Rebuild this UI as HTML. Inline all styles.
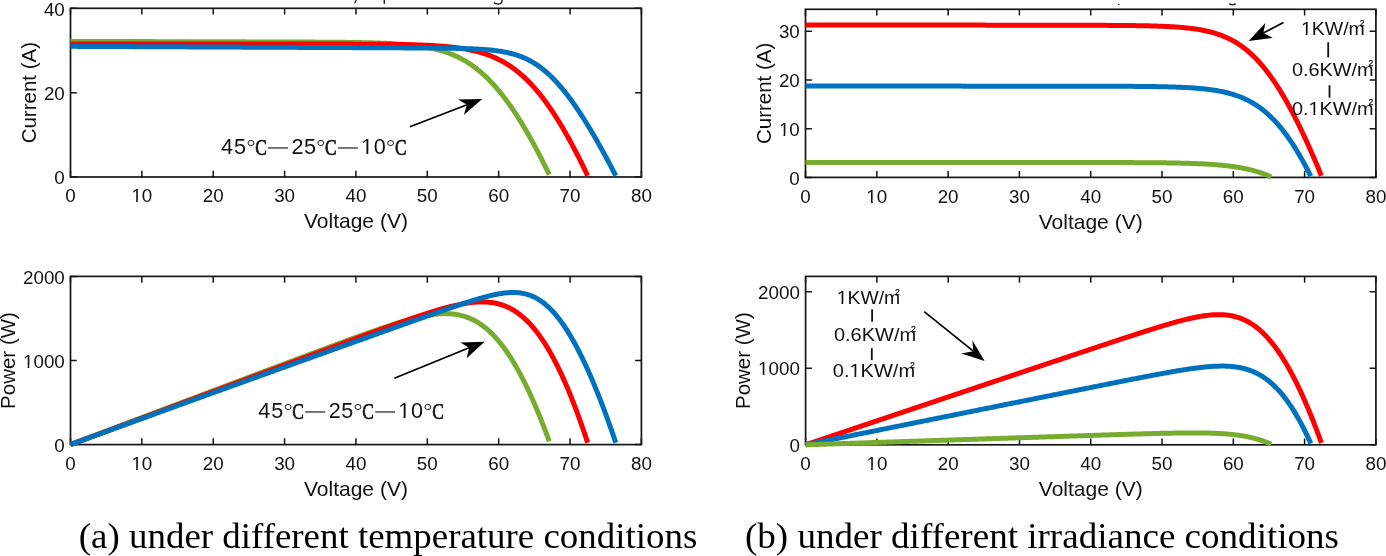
<!DOCTYPE html>
<html><head><meta charset="utf-8"><style>
html,body{margin:0;padding:0;background:#fff;}
body{width:1386px;height:556px;overflow:hidden;}
svg{display:block;will-change:transform;}
</style></head><body>
<svg width="1386" height="556" viewBox="0 0 1386 556">
<rect width="1386" height="556" fill="#fff"/>
<rect x="70.5" y="8.3" width="570.90" height="168.70" fill="none" stroke="#151515" stroke-width="1.7"/>
<path d="M70.50,177.0v-6.3M70.50,8.3v6.3M141.86,177.0v-6.3M141.86,8.3v6.3M213.22,177.0v-6.3M213.22,8.3v6.3M284.59,177.0v-6.3M284.59,8.3v6.3M355.95,177.0v-6.3M355.95,8.3v6.3M427.31,177.0v-6.3M427.31,8.3v6.3M498.68,177.0v-6.3M498.68,8.3v6.3M570.04,177.0v-6.3M570.04,8.3v6.3M641.40,177.0v-6.3M641.40,8.3v6.3M70.5,177.00h6.3M641.4,177.00h-6.3M70.5,92.65h6.3M641.4,92.65h-6.3M70.5,8.30h6.3M641.4,8.30h-6.3" stroke="#151515" stroke-width="1.5" fill="none"/>
<rect x="70.5" y="276.4" width="570.90" height="168.20" fill="none" stroke="#151515" stroke-width="1.7"/>
<path d="M70.50,444.6v-6.3M70.50,276.4v6.3M141.86,444.6v-6.3M141.86,276.4v6.3M213.22,444.6v-6.3M213.22,276.4v6.3M284.59,444.6v-6.3M284.59,276.4v6.3M355.95,444.6v-6.3M355.95,276.4v6.3M427.31,444.6v-6.3M427.31,276.4v6.3M498.68,444.6v-6.3M498.68,276.4v6.3M570.04,444.6v-6.3M570.04,276.4v6.3M641.40,444.6v-6.3M641.40,276.4v6.3M70.5,444.60h6.3M641.4,444.60h-6.3M70.5,360.50h6.3M641.4,360.50h-6.3M70.5,276.40h6.3M641.4,276.40h-6.3" stroke="#151515" stroke-width="1.5" fill="none"/>
<rect x="805.5" y="9.3" width="570.40" height="168.10" fill="none" stroke="#151515" stroke-width="1.7"/>
<path d="M805.50,177.4v-6.3M805.50,9.3v6.3M876.80,177.4v-6.3M876.80,9.3v6.3M948.10,177.4v-6.3M948.10,9.3v6.3M1019.40,177.4v-6.3M1019.40,9.3v6.3M1090.70,177.4v-6.3M1090.70,9.3v6.3M1162.00,177.4v-6.3M1162.00,9.3v6.3M1233.30,177.4v-6.3M1233.30,9.3v6.3M1304.60,177.4v-6.3M1304.60,9.3v6.3M1375.90,177.4v-6.3M1375.90,9.3v6.3M805.5,177.40h6.3M1375.9,177.40h-6.3M805.5,128.68h6.3M1375.9,128.68h-6.3M805.5,79.95h6.3M1375.9,79.95h-6.3M805.5,31.23h6.3M1375.9,31.23h-6.3" stroke="#151515" stroke-width="1.5" fill="none"/>
<rect x="805.6" y="276.4" width="570.30" height="168.40" fill="none" stroke="#151515" stroke-width="1.7"/>
<path d="M805.60,444.8v-6.3M805.60,276.4v6.3M876.89,444.8v-6.3M876.89,276.4v6.3M948.18,444.8v-6.3M948.18,276.4v6.3M1019.46,444.8v-6.3M1019.46,276.4v6.3M1090.75,444.8v-6.3M1090.75,276.4v6.3M1162.04,444.8v-6.3M1162.04,276.4v6.3M1233.33,444.8v-6.3M1233.33,276.4v6.3M1304.61,444.8v-6.3M1304.61,276.4v6.3M1375.90,444.8v-6.3M1375.90,276.4v6.3M805.6,444.80h6.3M1375.9,444.80h-6.3M805.6,368.25h6.3M1375.9,368.25h-6.3M805.6,291.71h6.3M1375.9,291.71h-6.3" stroke="#151515" stroke-width="1.5" fill="none"/>
<g fill="none" stroke-width="5.0" stroke-linejoin="round" stroke-linecap="butt">
<path stroke="#77AC30" d="M70.50,41.41 L70.54,41.41 L71.63,41.41 L72.73,41.41 L73.83,41.42 L74.93,41.42 L76.02,41.42 L77.12,41.42 L78.22,41.43 L79.31,41.43 L80.41,41.43 L81.51,41.44 L82.60,41.44 L83.70,41.44 L84.80,41.45 L85.89,41.45 L86.99,41.45 L88.09,41.45 L89.18,41.46 L90.28,41.46 L91.38,41.46 L92.48,41.47 L93.57,41.47 L94.67,41.47 L95.77,41.47 L96.86,41.48 L97.96,41.48 L99.06,41.48 L100.15,41.49 L101.25,41.49 L102.35,41.49 L103.44,41.49 L104.54,41.50 L105.64,41.50 L106.73,41.50 L107.83,41.51 L108.93,41.51 L110.03,41.51 L111.12,41.51 L112.22,41.52 L113.32,41.52 L114.41,41.52 L115.51,41.53 L116.61,41.53 L117.70,41.53 L118.80,41.53 L119.90,41.54 L120.99,41.54 L122.09,41.54 L123.19,41.55 L124.28,41.55 L125.38,41.55 L126.48,41.55 L127.58,41.56 L128.67,41.56 L129.77,41.56 L130.87,41.57 L131.96,41.57 L133.06,41.57 L134.16,41.58 L135.25,41.58 L136.35,41.58 L137.45,41.58 L138.54,41.59 L139.64,41.59 L140.74,41.59 L141.83,41.60 L142.93,41.60 L144.03,41.60 L145.13,41.60 L146.22,41.61 L147.32,41.61 L148.42,41.61 L149.51,41.62 L150.61,41.62 L151.71,41.62 L152.80,41.62 L153.90,41.63 L155.00,41.63 L156.09,41.63 L157.19,41.64 L158.29,41.64 L159.38,41.64 L160.48,41.64 L161.58,41.65 L162.68,41.65 L163.77,41.65 L164.87,41.66 L165.97,41.66 L167.06,41.66 L168.16,41.66 L169.26,41.67 L170.35,41.67 L171.45,41.67 L172.55,41.68 L173.64,41.68 L174.74,41.68 L175.84,41.69 L176.93,41.69 L178.03,41.69 L179.13,41.69 L180.23,41.70 L181.32,41.70 L182.42,41.70 L183.52,41.71 L184.61,41.71 L185.71,41.71 L186.81,41.71 L187.90,41.72 L189.00,41.72 L190.10,41.72 L191.19,41.73 L192.29,41.73 L193.39,41.73 L194.48,41.73 L195.58,41.74 L196.68,41.74 L197.78,41.74 L198.87,41.75 L199.97,41.75 L201.07,41.75 L202.16,41.76 L203.26,41.76 L204.36,41.76 L205.45,41.76 L206.55,41.77 L207.65,41.77 L208.74,41.77 L209.84,41.78 L210.94,41.78 L212.03,41.78 L213.13,41.78 L214.23,41.79 L215.33,41.79 L216.42,41.79 L217.52,41.80 L218.62,41.80 L219.71,41.80 L220.81,41.81 L221.91,41.81 L223.00,41.81 L224.10,41.81 L225.20,41.82 L226.29,41.82 L227.39,41.82 L228.49,41.83 L229.58,41.83 L230.68,41.83 L231.78,41.84 L232.88,41.84 L233.97,41.84 L235.07,41.84 L236.17,41.85 L237.26,41.85 L238.36,41.85 L239.46,41.86 L240.55,41.86 L241.65,41.86 L242.75,41.87 L243.84,41.87 L244.94,41.87 L246.04,41.88 L247.13,41.88 L248.23,41.88 L249.33,41.88 L250.43,41.89 L251.52,41.89 L252.62,41.89 L253.72,41.90 L254.81,41.90 L255.91,41.90 L257.01,41.91 L258.10,41.91 L259.20,41.91 L260.30,41.92 L261.39,41.92 L262.49,41.92 L263.59,41.93 L264.68,41.93 L265.78,41.93 L266.88,41.94 L267.97,41.94 L269.07,41.94 L270.17,41.95 L271.27,41.95 L272.36,41.95 L273.46,41.96 L274.56,41.96 L275.65,41.96 L276.75,41.97 L277.85,41.97 L278.94,41.98 L280.04,41.98 L281.14,41.98 L282.23,41.99 L283.33,41.99 L284.43,41.99 L285.52,42.00 L286.62,42.00 L287.72,42.01 L288.82,42.01 L289.91,42.01 L291.01,42.02 L292.11,42.02 L293.20,42.03 L294.30,42.03 L295.40,42.04 L296.49,42.04 L297.59,42.04 L298.69,42.05 L299.78,42.05 L300.88,42.06 L301.98,42.06 L303.07,42.07 L304.17,42.07 L305.27,42.08 L306.37,42.08 L307.46,42.09 L308.56,42.09 L309.66,42.10 L310.75,42.10 L311.85,42.11 L312.95,42.12 L314.04,42.12 L315.14,42.13 L316.24,42.13 L317.33,42.14 L318.43,42.15 L319.53,42.15 L320.62,42.16 L321.72,42.17 L322.82,42.17 L323.92,42.18 L325.01,42.19 L326.11,42.20 L327.21,42.20 L328.30,42.21 L329.40,42.22 L330.50,42.23 L331.59,42.24 L332.69,42.25 L333.79,42.26 L334.88,42.27 L335.98,42.28 L337.08,42.29 L338.17,42.30 L339.27,42.31 L340.37,42.32 L341.46,42.33 L342.56,42.34 L343.66,42.35 L344.75,42.36 L345.85,42.38 L346.95,42.39 L348.05,42.40 L349.14,42.42 L350.24,42.43 L351.34,42.45 L352.43,42.46 L353.53,42.48 L354.63,42.50 L355.72,42.51 L356.82,42.53 L357.92,42.55 L359.01,42.57 L360.11,42.59 L361.21,42.61 L362.30,42.63 L363.40,42.65 L364.50,42.68 L365.59,42.70 L366.69,42.73 L367.79,42.75 L368.88,42.78 L369.98,42.80 L371.07,42.83 L372.17,42.86 L373.27,42.89 L374.36,42.93 L375.46,42.96 L376.56,42.99 L377.65,43.03 L378.75,43.07 L379.84,43.10 L380.94,43.14 L382.04,43.19 L383.13,43.23 L384.23,43.27 L385.32,43.32 L386.42,43.37 L387.52,43.42 L388.61,43.47 L389.71,43.52 L390.80,43.58 L391.90,43.64 L392.99,43.70 L394.09,43.76 L395.18,43.83 L396.28,43.90 L397.37,43.97 L398.46,44.04 L399.56,44.12 L400.65,44.20 L401.74,44.28 L402.84,44.36 L403.93,44.45 L405.02,44.55 L406.12,44.64 L407.21,44.74 L408.30,44.84 L409.39,44.95 L410.48,45.06 L411.57,45.18 L412.66,45.30 L413.75,45.42 L414.84,45.55 L415.92,45.69 L417.01,45.83 L418.10,45.97 L419.18,46.12 L420.27,46.28 L421.35,46.44 L422.43,46.61 L423.51,46.78 L424.59,46.96 L425.67,47.14 L426.75,47.34 L427.82,47.54 L428.90,47.74 L429.97,47.96 L431.04,48.18 L432.11,48.41 L433.18,48.64 L434.24,48.89 L435.31,49.14 L436.37,49.40 L437.43,49.67 L438.48,49.95 L439.54,50.24 L440.59,50.53 L441.63,50.84 L442.68,51.15 L443.72,51.48 L444.76,51.81 L445.79,52.15 L446.82,52.51 L447.85,52.87 L448.87,53.24 L449.89,53.62 L450.90,54.02 L451.91,54.42 L452.91,54.83 L453.91,55.26 L454.91,55.69 L455.90,56.13 L456.88,56.59 L457.86,57.05 L458.83,57.53 L459.80,58.01 L460.76,58.51 L461.71,59.01 L462.66,59.53 L463.61,60.05 L464.54,60.59 L465.47,61.13 L466.40,61.68 L467.31,62.25 L468.22,62.82 L469.13,63.40 L470.03,63.99 L470.92,64.59 L471.80,65.20 L472.68,65.81 L473.55,66.44 L474.41,67.07 L475.27,67.71 L476.12,68.36 L476.97,69.02 L477.80,69.68 L478.64,70.35 L479.46,71.03 L480.28,71.71 L481.09,72.40 L481.89,73.10 L482.69,73.81 L483.48,74.52 L484.27,75.23 L485.05,75.96 L485.82,76.68 L486.59,77.42 L487.35,78.16 L488.11,78.90 L488.86,79.65 L489.60,80.41 L490.34,81.17 L491.07,81.93 L491.80,82.70 L492.52,83.47 L493.23,84.25 L493.94,85.03 L494.65,85.82 L495.35,86.61 L496.05,87.41 L496.74,88.20 L497.42,89.01 L498.10,89.81 L498.78,90.62 L499.45,91.43 L500.12,92.25 L500.78,93.07 L501.44,93.89 L502.09,94.71 L502.74,95.54 L503.39,96.37 L504.03,97.20 L504.67,98.04 L505.30,98.88 L505.93,99.72 L506.55,100.56 L507.17,101.41 L507.79,102.26 L508.41,103.11 L509.02,103.96 L509.62,104.82 L510.23,105.68 L510.83,106.54 L511.43,107.40 L512.02,108.26 L512.61,109.13 L513.20,109.99 L513.78,110.86 L514.36,111.73 L514.94,112.61 L515.52,113.48 L516.09,114.36 L516.66,115.24 L517.22,116.12 L517.79,117.00 L518.35,117.88 L518.91,118.76 L519.46,119.65 L520.02,120.53 L520.57,121.42 L521.12,122.31 L521.66,123.20 L522.20,124.10 L522.75,124.99 L523.28,125.88 L523.82,126.78 L524.35,127.68 L524.89,128.58 L525.42,129.48 L525.94,130.38 L526.47,131.28 L526.99,132.18 L527.51,133.08 L528.03,133.99 L528.55,134.89 L529.06,135.80 L529.58,136.71 L530.09,137.62 L530.60,138.53 L531.11,139.44 L531.61,140.35 L532.12,141.26 L532.62,142.18 L533.12,143.09 L533.62,144.00 L534.11,144.92 L534.61,145.84 L535.10,146.75 L535.59,147.67 L536.08,148.59 L536.57,149.51 L537.06,150.43 L537.55,151.35 L538.03,152.27 L538.51,153.19 L538.99,154.12 L539.47,155.04 L539.95,155.97 L540.43,156.89 L540.90,157.82 L541.38,158.74 L541.85,159.67 L542.32,160.60 L542.79,161.52 L543.26,162.45 L543.73,163.38 L544.20,164.31 L544.66,165.24 L545.12,166.17 L545.59,167.10 L546.05,168.04 L546.51,168.97 L546.97,169.90 L547.42,170.84 L547.88,171.77 L548.34,172.70 L548.79,173.64 L549.24,174.57"/>
<path stroke="#FF0000" d="M70.50,44.02 L70.57,44.02 L71.74,44.02 L72.91,44.02 L74.09,44.02 L75.26,44.02 L76.44,44.02 L77.61,44.02 L78.78,44.02 L79.96,44.02 L81.13,44.02 L82.30,44.02 L83.48,44.02 L84.65,44.02 L85.83,44.02 L87.00,44.02 L88.17,44.02 L89.35,44.02 L90.52,44.02 L91.69,44.02 L92.87,44.02 L94.04,44.02 L95.22,44.02 L96.39,44.02 L97.56,44.02 L98.74,44.02 L99.91,44.02 L101.08,44.02 L102.26,44.02 L103.43,44.02 L104.61,44.02 L105.78,44.03 L106.95,44.03 L108.13,44.03 L109.30,44.03 L110.47,44.03 L111.65,44.03 L112.82,44.03 L114.00,44.03 L115.17,44.03 L116.34,44.03 L117.52,44.03 L118.69,44.03 L119.86,44.03 L121.04,44.03 L122.21,44.03 L123.39,44.03 L124.56,44.03 L125.73,44.03 L126.91,44.03 L128.08,44.03 L129.25,44.03 L130.43,44.03 L131.60,44.03 L132.78,44.03 L133.95,44.03 L135.12,44.03 L136.30,44.03 L137.47,44.03 L138.64,44.03 L139.82,44.03 L140.99,44.03 L142.17,44.03 L143.34,44.03 L144.51,44.03 L145.69,44.03 L146.86,44.03 L148.03,44.03 L149.21,44.03 L150.38,44.03 L151.56,44.03 L152.73,44.03 L153.90,44.03 L155.08,44.03 L156.25,44.03 L157.42,44.03 L158.60,44.03 L159.77,44.03 L160.95,44.03 L162.12,44.03 L163.29,44.03 L164.47,44.03 L165.64,44.03 L166.81,44.03 L167.99,44.03 L169.16,44.03 L170.34,44.03 L171.51,44.03 L172.68,44.03 L173.86,44.03 L175.03,44.03 L176.21,44.03 L177.38,44.03 L178.55,44.03 L179.73,44.03 L180.90,44.03 L182.07,44.03 L183.25,44.03 L184.42,44.03 L185.60,44.03 L186.77,44.03 L187.94,44.03 L189.12,44.03 L190.29,44.03 L191.46,44.03 L192.64,44.03 L193.81,44.03 L194.99,44.03 L196.16,44.03 L197.33,44.03 L198.51,44.03 L199.68,44.03 L200.85,44.03 L202.03,44.03 L203.20,44.03 L204.38,44.03 L205.55,44.03 L206.72,44.03 L207.90,44.03 L209.07,44.03 L210.24,44.03 L211.42,44.03 L212.59,44.03 L213.77,44.03 L214.94,44.03 L216.11,44.03 L217.29,44.03 L218.46,44.03 L219.63,44.03 L220.81,44.03 L221.98,44.03 L223.16,44.03 L224.33,44.03 L225.50,44.04 L226.68,44.04 L227.85,44.04 L229.02,44.04 L230.20,44.04 L231.37,44.04 L232.55,44.04 L233.72,44.04 L234.89,44.04 L236.07,44.04 L237.24,44.04 L238.41,44.04 L239.59,44.04 L240.76,44.04 L241.94,44.04 L243.11,44.04 L244.28,44.04 L245.46,44.04 L246.63,44.04 L247.80,44.04 L248.98,44.04 L250.15,44.04 L251.33,44.04 L252.50,44.04 L253.67,44.04 L254.85,44.04 L256.02,44.04 L257.19,44.04 L258.37,44.04 L259.54,44.04 L260.72,44.04 L261.89,44.04 L263.06,44.04 L264.24,44.04 L265.41,44.04 L266.59,44.04 L267.76,44.04 L268.93,44.04 L270.11,44.04 L271.28,44.04 L272.45,44.04 L273.63,44.04 L274.80,44.04 L275.98,44.04 L277.15,44.04 L278.32,44.04 L279.50,44.04 L280.67,44.04 L281.84,44.04 L283.02,44.04 L284.19,44.05 L285.37,44.05 L286.54,44.05 L287.71,44.05 L288.89,44.05 L290.06,44.05 L291.23,44.05 L292.41,44.05 L293.58,44.05 L294.76,44.05 L295.93,44.05 L297.10,44.05 L298.28,44.05 L299.45,44.05 L300.62,44.05 L301.80,44.05 L302.97,44.05 L304.15,44.05 L305.32,44.05 L306.49,44.05 L307.67,44.06 L308.84,44.06 L310.01,44.06 L311.19,44.06 L312.36,44.06 L313.54,44.06 L314.71,44.06 L315.88,44.06 L317.06,44.06 L318.23,44.06 L319.40,44.06 L320.58,44.07 L321.75,44.07 L322.93,44.07 L324.10,44.07 L325.27,44.07 L326.45,44.07 L327.62,44.07 L328.79,44.08 L329.97,44.08 L331.14,44.08 L332.32,44.08 L333.49,44.08 L334.66,44.08 L335.84,44.09 L337.01,44.09 L338.18,44.09 L339.36,44.09 L340.53,44.09 L341.71,44.10 L342.88,44.10 L344.05,44.10 L345.23,44.10 L346.40,44.11 L347.57,44.11 L348.75,44.11 L349.92,44.12 L351.10,44.12 L352.27,44.12 L353.44,44.13 L354.62,44.13 L355.79,44.13 L356.96,44.14 L358.14,44.14 L359.31,44.15 L360.49,44.15 L361.66,44.16 L362.83,44.16 L364.01,44.17 L365.18,44.17 L366.35,44.18 L367.53,44.18 L368.70,44.19 L369.88,44.20 L371.05,44.20 L372.22,44.21 L373.40,44.22 L374.57,44.22 L375.74,44.23 L376.92,44.24 L378.09,44.25 L379.27,44.26 L380.44,44.27 L381.61,44.28 L382.79,44.29 L383.96,44.30 L385.13,44.31 L386.31,44.32 L387.48,44.33 L388.66,44.35 L389.83,44.36 L391.00,44.37 L392.18,44.39 L393.35,44.40 L394.52,44.42 L395.70,44.44 L396.87,44.45 L398.04,44.47 L399.22,44.49 L400.39,44.51 L401.57,44.53 L402.74,44.55 L403.91,44.58 L405.09,44.60 L406.26,44.62 L407.43,44.65 L408.61,44.68 L409.78,44.70 L410.95,44.73 L412.13,44.76 L413.30,44.80 L414.47,44.83 L415.65,44.86 L416.82,44.90 L417.99,44.94 L419.17,44.98 L420.34,45.02 L421.51,45.06 L422.68,45.10 L423.86,45.15 L425.03,45.20 L426.20,45.25 L427.37,45.30 L428.55,45.36 L429.72,45.42 L430.89,45.48 L432.06,45.54 L433.23,45.60 L434.41,45.67 L435.58,45.74 L436.75,45.82 L437.92,45.89 L439.09,45.97 L440.26,46.06 L441.43,46.14 L442.60,46.24 L443.77,46.33 L444.94,46.43 L446.11,46.53 L447.27,46.64 L448.44,46.75 L449.61,46.87 L450.78,46.99 L451.94,47.12 L453.11,47.25 L454.27,47.38 L455.44,47.53 L456.60,47.68 L457.76,47.83 L458.92,47.99 L460.08,48.16 L461.24,48.33 L462.40,48.51 L463.56,48.70 L464.71,48.89 L465.87,49.09 L467.02,49.30 L468.17,49.52 L469.32,49.75 L470.46,49.98 L471.61,50.22 L472.75,50.47 L473.89,50.74 L475.03,51.01 L476.16,51.28 L477.30,51.57 L478.43,51.87 L479.55,52.18 L480.68,52.50 L481.80,52.83 L482.91,53.17 L484.02,53.52 L485.13,53.89 L486.24,54.26 L487.33,54.64 L488.43,55.04 L489.52,55.45 L490.60,55.87 L491.68,56.30 L492.76,56.74 L493.83,57.20 L494.89,57.66 L495.95,58.14 L497.00,58.63 L498.04,59.13 L499.08,59.64 L500.11,60.17 L501.14,60.71 L502.15,61.25 L503.17,61.81 L504.17,62.38 L505.16,62.96 L506.15,63.56 L507.13,64.16 L508.11,64.77 L509.07,65.40 L510.03,66.03 L510.98,66.68 L511.93,67.33 L512.86,67.99 L513.79,68.67 L514.71,69.35 L515.62,70.04 L516.53,70.74 L517.42,71.45 L518.31,72.17 L519.19,72.90 L520.06,73.63 L520.93,74.37 L521.79,75.12 L522.64,75.88 L523.48,76.64 L524.32,77.42 L525.15,78.19 L525.97,78.98 L526.79,79.77 L527.59,80.57 L528.39,81.37 L529.19,82.18 L529.98,82.99 L530.76,83.81 L531.53,84.64 L532.30,85.47 L533.06,86.31 L533.82,87.15 L534.57,87.99 L535.31,88.84 L536.05,89.70 L536.78,90.56 L537.51,91.42 L538.23,92.29 L538.95,93.16 L539.66,94.03 L540.36,94.91 L541.06,95.80 L541.75,96.68 L542.44,97.57 L543.13,98.46 L543.81,99.36 L544.48,100.26 L545.15,101.16 L545.82,102.07 L546.48,102.97 L547.14,103.89 L547.79,104.80 L548.44,105.71 L549.08,106.63 L549.73,107.55 L550.36,108.48 L550.99,109.40 L551.62,110.33 L552.25,111.26 L552.87,112.20 L553.49,113.13 L554.10,114.07 L554.71,115.01 L555.32,115.95 L555.92,116.89 L556.52,117.83 L557.12,118.78 L557.71,119.73 L558.30,120.68 L558.89,121.63 L559.47,122.58 L560.05,123.54 L560.63,124.50 L561.21,125.45 L561.78,126.41 L562.35,127.37 L562.92,128.34 L563.48,129.30 L564.04,130.26 L564.60,131.23 L565.16,132.20 L565.71,133.17 L566.27,134.14 L566.81,135.11 L567.36,136.08 L567.91,137.06 L568.45,138.03 L568.99,139.01 L569.52,139.98 L570.06,140.96 L570.59,141.94 L571.12,142.92 L571.65,143.90 L572.18,144.88 L572.71,145.87 L573.23,146.85 L573.75,147.84 L574.27,148.82 L574.78,149.81 L575.30,150.80 L575.81,151.79 L576.32,152.77 L576.83,153.76 L577.34,154.76 L577.85,155.75 L578.35,156.74 L578.85,157.73 L579.36,158.73 L579.85,159.72 L580.35,160.72 L580.85,161.71 L581.34,162.71 L581.84,163.71 L582.33,164.71 L582.82,165.70 L583.30,166.70 L583.79,167.70 L584.28,168.71 L584.76,169.71 L585.24,170.71 L585.72,171.71 L586.20,172.71 L586.68,173.72 L587.16,174.72 L587.63,175.73"/>
<path stroke="#0072BD" d="M70.50,46.34 L70.56,46.34 L71.79,46.35 L73.02,46.35 L74.24,46.36 L75.47,46.36 L76.70,46.37 L77.93,46.38 L79.16,46.38 L80.39,46.39 L81.62,46.39 L82.84,46.40 L84.07,46.40 L85.30,46.41 L86.53,46.41 L87.76,46.42 L88.99,46.43 L90.22,46.43 L91.45,46.44 L92.67,46.44 L93.90,46.45 L95.13,46.45 L96.36,46.46 L97.59,46.47 L98.82,46.47 L100.05,46.48 L101.27,46.48 L102.50,46.49 L103.73,46.49 L104.96,46.50 L106.19,46.50 L107.42,46.51 L108.65,46.52 L109.88,46.52 L111.10,46.53 L112.33,46.53 L113.56,46.54 L114.79,46.54 L116.02,46.55 L117.25,46.55 L118.48,46.56 L119.71,46.57 L120.93,46.57 L122.16,46.58 L123.39,46.58 L124.62,46.59 L125.85,46.59 L127.08,46.60 L128.31,46.61 L129.53,46.61 L130.76,46.62 L131.99,46.62 L133.22,46.63 L134.45,46.63 L135.68,46.64 L136.91,46.64 L138.14,46.65 L139.36,46.66 L140.59,46.66 L141.82,46.67 L143.05,46.67 L144.28,46.68 L145.51,46.68 L146.74,46.69 L147.97,46.69 L149.19,46.70 L150.42,46.71 L151.65,46.71 L152.88,46.72 L154.11,46.72 L155.34,46.73 L156.57,46.73 L157.79,46.74 L159.02,46.75 L160.25,46.75 L161.48,46.76 L162.71,46.76 L163.94,46.77 L165.17,46.77 L166.40,46.78 L167.62,46.78 L168.85,46.79 L170.08,46.80 L171.31,46.80 L172.54,46.81 L173.77,46.81 L175.00,46.82 L176.22,46.82 L177.45,46.83 L178.68,46.83 L179.91,46.84 L181.14,46.85 L182.37,46.85 L183.60,46.86 L184.83,46.86 L186.05,46.87 L187.28,46.87 L188.51,46.88 L189.74,46.88 L190.97,46.89 L192.20,46.90 L193.43,46.90 L194.66,46.91 L195.88,46.91 L197.11,46.92 L198.34,46.92 L199.57,46.93 L200.80,46.94 L202.03,46.94 L203.26,46.95 L204.48,46.95 L205.71,46.96 L206.94,46.96 L208.17,46.97 L209.40,46.97 L210.63,46.98 L211.86,46.99 L213.09,46.99 L214.31,47.00 L215.54,47.00 L216.77,47.01 L218.00,47.01 L219.23,47.02 L220.46,47.02 L221.69,47.03 L222.92,47.04 L224.14,47.04 L225.37,47.05 L226.60,47.05 L227.83,47.06 L229.06,47.06 L230.29,47.07 L231.52,47.08 L232.74,47.08 L233.97,47.09 L235.20,47.09 L236.43,47.10 L237.66,47.10 L238.89,47.11 L240.12,47.11 L241.35,47.12 L242.57,47.13 L243.80,47.13 L245.03,47.14 L246.26,47.14 L247.49,47.15 L248.72,47.15 L249.95,47.16 L251.17,47.16 L252.40,47.17 L253.63,47.18 L254.86,47.18 L256.09,47.19 L257.32,47.19 L258.55,47.20 L259.78,47.20 L261.00,47.21 L262.23,47.22 L263.46,47.22 L264.69,47.23 L265.92,47.23 L267.15,47.24 L268.38,47.24 L269.61,47.25 L270.83,47.25 L272.06,47.26 L273.29,47.27 L274.52,47.27 L275.75,47.28 L276.98,47.28 L278.21,47.29 L279.43,47.29 L280.66,47.30 L281.89,47.30 L283.12,47.31 L284.35,47.32 L285.58,47.32 L286.81,47.33 L288.04,47.33 L289.26,47.34 L290.49,47.34 L291.72,47.35 L292.95,47.35 L294.18,47.36 L295.41,47.37 L296.64,47.37 L297.87,47.38 L299.09,47.38 L300.32,47.39 L301.55,47.39 L302.78,47.40 L304.01,47.41 L305.24,47.41 L306.47,47.42 L307.69,47.42 L308.92,47.43 L310.15,47.43 L311.38,47.44 L312.61,47.44 L313.84,47.45 L315.07,47.46 L316.30,47.46 L317.52,47.47 L318.75,47.47 L319.98,47.48 L321.21,47.48 L322.44,47.49 L323.67,47.50 L324.90,47.50 L326.12,47.51 L327.35,47.51 L328.58,47.52 L329.81,47.52 L331.04,47.53 L332.27,47.53 L333.50,47.54 L334.73,47.55 L335.95,47.55 L337.18,47.56 L338.41,47.56 L339.64,47.57 L340.87,47.57 L342.10,47.58 L343.33,47.59 L344.56,47.59 L345.78,47.60 L347.01,47.60 L348.24,47.61 L349.47,47.61 L350.70,47.62 L351.93,47.62 L353.16,47.63 L354.38,47.64 L355.61,47.64 L356.84,47.65 L358.07,47.65 L359.30,47.66 L360.53,47.66 L361.76,47.67 L362.99,47.68 L364.21,47.68 L365.44,47.69 L366.67,47.69 L367.90,47.70 L369.13,47.70 L370.36,47.71 L371.59,47.72 L372.81,47.72 L374.04,47.73 L375.27,47.73 L376.50,47.74 L377.73,47.75 L378.96,47.75 L380.19,47.76 L381.42,47.76 L382.64,47.77 L383.87,47.78 L385.10,47.78 L386.33,47.79 L387.56,47.79 L388.79,47.80 L390.02,47.81 L391.25,47.81 L392.47,47.82 L393.70,47.82 L394.93,47.83 L396.16,47.84 L397.39,47.84 L398.62,47.85 L399.85,47.86 L401.07,47.86 L402.30,47.87 L403.53,47.88 L404.76,47.88 L405.99,47.89 L407.22,47.90 L408.45,47.90 L409.68,47.91 L410.90,47.92 L412.13,47.93 L413.36,47.93 L414.59,47.94 L415.82,47.95 L417.05,47.96 L418.28,47.96 L419.50,47.97 L420.73,47.98 L421.96,47.99 L423.19,48.00 L424.42,48.01 L425.65,48.02 L426.88,48.03 L428.11,48.04 L429.33,48.05 L430.56,48.06 L431.79,48.07 L433.02,48.08 L434.25,48.09 L435.48,48.10 L436.71,48.11 L437.93,48.13 L439.16,48.14 L440.39,48.15 L441.62,48.17 L442.85,48.18 L444.08,48.20 L445.31,48.21 L446.53,48.23 L447.76,48.25 L448.99,48.27 L450.22,48.29 L451.45,48.31 L452.68,48.33 L453.91,48.35 L455.13,48.37 L456.36,48.40 L457.59,48.42 L458.82,48.45 L460.05,48.48 L461.28,48.51 L462.50,48.54 L463.73,48.58 L464.96,48.61 L466.19,48.65 L467.42,48.69 L468.64,48.73 L469.87,48.77 L471.10,48.82 L472.33,48.87 L473.56,48.92 L474.78,48.98 L476.01,49.04 L477.24,49.10 L478.46,49.17 L479.69,49.24 L480.92,49.31 L482.14,49.39 L483.37,49.47 L484.59,49.56 L485.82,49.66 L487.04,49.76 L488.26,49.86 L489.49,49.97 L490.71,50.09 L491.93,50.22 L493.15,50.35 L494.37,50.49 L495.59,50.64 L496.81,50.80 L498.02,50.96 L499.24,51.14 L500.45,51.32 L501.66,51.52 L502.87,51.73 L504.07,51.95 L505.28,52.18 L506.48,52.42 L507.68,52.68 L508.87,52.95 L510.06,53.23 L511.25,53.52 L512.43,53.84 L513.61,54.16 L514.78,54.50 L515.95,54.86 L517.11,55.24 L518.27,55.62 L519.42,56.03 L520.56,56.45 L521.70,56.89 L522.83,57.35 L523.95,57.82 L525.06,58.31 L526.16,58.81 L527.26,59.34 L528.34,59.87 L529.42,60.43 L530.49,61.00 L531.54,61.59 L532.59,62.19 L533.63,62.80 L534.66,63.44 L535.67,64.08 L536.68,64.74 L537.68,65.41 L538.66,66.10 L539.64,66.80 L540.60,67.51 L541.56,68.23 L542.51,68.97 L543.44,69.71 L544.37,70.47 L545.28,71.24 L546.19,72.01 L547.09,72.80 L547.98,73.59 L548.86,74.40 L549.73,75.21 L550.59,76.03 L551.44,76.86 L552.29,77.69 L553.12,78.53 L553.95,79.38 L554.78,80.24 L555.59,81.10 L556.40,81.97 L557.20,82.84 L557.99,83.72 L558.78,84.60 L559.55,85.49 L560.33,86.39 L561.09,87.29 L561.85,88.19 L562.61,89.10 L563.36,90.01 L564.10,90.93 L564.84,91.85 L565.57,92.77 L566.30,93.70 L567.02,94.63 L567.74,95.57 L568.45,96.50 L569.16,97.44 L569.86,98.39 L570.56,99.33 L571.25,100.28 L571.94,101.24 L572.62,102.19 L573.31,103.15 L573.98,104.11 L574.66,105.07 L575.33,106.04 L575.99,107.00 L576.65,107.97 L577.31,108.94 L577.97,109.92 L578.62,110.89 L579.27,111.87 L579.92,112.85 L580.56,113.83 L581.20,114.81 L581.83,115.79 L582.47,116.78 L583.10,117.77 L583.73,118.76 L584.35,119.75 L584.97,120.74 L585.59,121.73 L586.21,122.73 L586.83,123.72 L587.44,124.72 L588.05,125.72 L588.66,126.72 L589.26,127.72 L589.87,128.72 L590.47,129.73 L591.07,130.73 L591.66,131.74 L592.26,132.74 L592.85,133.75 L593.44,134.76 L594.03,135.77 L594.62,136.78 L595.20,137.79 L595.78,138.81 L596.37,139.82 L596.94,140.83 L597.52,141.85 L598.10,142.87 L598.67,143.88 L599.25,144.90 L599.82,145.92 L600.39,146.94 L600.95,147.96 L601.52,148.98 L602.08,150.00 L602.65,151.02 L603.21,152.05 L603.77,153.07 L604.33,154.10 L604.89,155.12 L605.44,156.15 L606.00,157.17 L606.55,158.20 L607.10,159.23 L607.65,160.26 L608.20,161.29 L608.75,162.32 L609.30,163.35 L609.85,164.38 L610.39,165.41 L610.94,166.44 L611.48,167.47 L612.02,168.50 L612.56,169.54 L613.10,170.57 L613.64,171.61 L614.17,172.64 L614.71,173.68 L615.25,174.71 L615.78,175.75"/>
</g>
<g fill="none" stroke-width="5.0" stroke-linejoin="round" stroke-linecap="butt">
<path stroke="#77AC30" d="M70.50,444.60 L70.54,444.59 L71.63,444.17 L72.73,443.75 L73.83,443.34 L74.93,442.92 L76.02,442.51 L77.12,442.09 L78.22,441.68 L79.31,441.26 L80.41,440.85 L81.51,440.43 L82.60,440.02 L83.70,439.60 L84.80,439.18 L85.89,438.77 L86.99,438.35 L88.09,437.94 L89.18,437.52 L90.28,437.11 L91.38,436.69 L92.48,436.28 L93.57,435.86 L94.67,435.45 L95.77,435.03 L96.86,434.62 L97.96,434.20 L99.06,433.79 L100.15,433.37 L101.25,432.96 L102.35,432.54 L103.44,432.13 L104.54,431.71 L105.64,431.30 L106.73,430.88 L107.83,430.47 L108.93,430.05 L110.03,429.64 L111.12,429.22 L112.22,428.81 L113.32,428.39 L114.41,427.98 L115.51,427.56 L116.61,427.15 L117.70,426.73 L118.80,426.32 L119.90,425.90 L120.99,425.49 L122.09,425.07 L123.19,424.66 L124.28,424.24 L125.38,423.83 L126.48,423.41 L127.58,423.00 L128.67,422.58 L129.77,422.17 L130.87,421.76 L131.96,421.34 L133.06,420.93 L134.16,420.51 L135.25,420.10 L136.35,419.68 L137.45,419.27 L138.54,418.85 L139.64,418.44 L140.74,418.02 L141.83,417.61 L142.93,417.20 L144.03,416.78 L145.13,416.37 L146.22,415.95 L147.32,415.54 L148.42,415.12 L149.51,414.71 L150.61,414.29 L151.71,413.88 L152.80,413.47 L153.90,413.05 L155.00,412.64 L156.09,412.22 L157.19,411.81 L158.29,411.40 L159.38,410.98 L160.48,410.57 L161.58,410.15 L162.68,409.74 L163.77,409.32 L164.87,408.91 L165.97,408.50 L167.06,408.08 L168.16,407.67 L169.26,407.25 L170.35,406.84 L171.45,406.43 L172.55,406.01 L173.64,405.60 L174.74,405.18 L175.84,404.77 L176.93,404.36 L178.03,403.94 L179.13,403.53 L180.23,403.12 L181.32,402.70 L182.42,402.29 L183.52,401.87 L184.61,401.46 L185.71,401.05 L186.81,400.63 L187.90,400.22 L189.00,399.81 L190.10,399.39 L191.19,398.98 L192.29,398.56 L193.39,398.15 L194.48,397.74 L195.58,397.32 L196.68,396.91 L197.78,396.50 L198.87,396.08 L199.97,395.67 L201.07,395.26 L202.16,394.84 L203.26,394.43 L204.36,394.02 L205.45,393.60 L206.55,393.19 L207.65,392.78 L208.74,392.36 L209.84,391.95 L210.94,391.54 L212.03,391.12 L213.13,390.71 L214.23,390.30 L215.33,389.88 L216.42,389.47 L217.52,389.06 L218.62,388.64 L219.71,388.23 L220.81,387.82 L221.91,387.40 L223.00,386.99 L224.10,386.58 L225.20,386.16 L226.29,385.75 L227.39,385.34 L228.49,384.93 L229.58,384.51 L230.68,384.10 L231.78,383.69 L232.88,383.27 L233.97,382.86 L235.07,382.45 L236.17,382.04 L237.26,381.62 L238.36,381.21 L239.46,380.80 L240.55,380.38 L241.65,379.97 L242.75,379.56 L243.84,379.15 L244.94,378.73 L246.04,378.32 L247.13,377.91 L248.23,377.50 L249.33,377.08 L250.43,376.67 L251.52,376.26 L252.62,375.85 L253.72,375.43 L254.81,375.02 L255.91,374.61 L257.01,374.20 L258.10,373.78 L259.20,373.37 L260.30,372.96 L261.39,372.55 L262.49,372.13 L263.59,371.72 L264.68,371.31 L265.78,370.90 L266.88,370.49 L267.97,370.07 L269.07,369.66 L270.17,369.25 L271.27,368.84 L272.36,368.43 L273.46,368.01 L274.56,367.60 L275.65,367.19 L276.75,366.78 L277.85,366.37 L278.94,365.95 L280.04,365.54 L281.14,365.13 L282.23,364.72 L283.33,364.31 L284.43,363.90 L285.52,363.49 L286.62,363.07 L287.72,362.66 L288.82,362.25 L289.91,361.84 L291.01,361.43 L292.11,361.02 L293.20,360.61 L294.30,360.20 L295.40,359.79 L296.49,359.37 L297.59,358.96 L298.69,358.55 L299.78,358.14 L300.88,357.73 L301.98,357.32 L303.07,356.91 L304.17,356.50 L305.27,356.09 L306.37,355.68 L307.46,355.27 L308.56,354.86 L309.66,354.45 L310.75,354.04 L311.85,353.63 L312.95,353.22 L314.04,352.81 L315.14,352.40 L316.24,351.99 L317.33,351.58 L318.43,351.18 L319.53,350.77 L320.62,350.36 L321.72,349.95 L322.82,349.54 L323.92,349.13 L325.01,348.73 L326.11,348.32 L327.21,347.91 L328.30,347.50 L329.40,347.10 L330.50,346.69 L331.59,346.28 L332.69,345.88 L333.79,345.47 L334.88,345.06 L335.98,344.66 L337.08,344.25 L338.17,343.85 L339.27,343.44 L340.37,343.04 L341.46,342.63 L342.56,342.23 L343.66,341.83 L344.75,341.42 L345.85,341.02 L346.95,340.62 L348.05,340.22 L349.14,339.81 L350.24,339.41 L351.34,339.01 L352.43,338.61 L353.53,338.21 L354.63,337.81 L355.72,337.42 L356.82,337.02 L357.92,336.62 L359.01,336.22 L360.11,335.83 L361.21,335.43 L362.30,335.04 L363.40,334.65 L364.50,334.25 L365.59,333.86 L366.69,333.47 L367.79,333.08 L368.88,332.69 L369.98,332.30 L371.07,331.91 L372.17,331.53 L373.27,331.14 L374.36,330.76 L375.46,330.38 L376.56,330.00 L377.65,329.62 L378.75,329.24 L379.84,328.86 L380.94,328.49 L382.04,328.11 L383.13,327.74 L384.23,327.37 L385.32,327.00 L386.42,326.63 L387.52,326.27 L388.61,325.91 L389.71,325.55 L390.80,325.19 L391.90,324.83 L392.99,324.48 L394.09,324.13 L395.18,323.78 L396.28,323.43 L397.37,323.09 L398.46,322.75 L399.56,322.42 L400.65,322.08 L401.74,321.75 L402.84,321.43 L403.93,321.11 L405.02,320.79 L406.12,320.47 L407.21,320.16 L408.30,319.86 L409.39,319.56 L410.48,319.26 L411.57,318.97 L412.66,318.68 L413.75,318.40 L414.84,318.13 L415.92,317.86 L417.01,317.59 L418.10,317.33 L419.18,317.08 L420.27,316.84 L421.35,316.60 L422.43,316.37 L423.51,316.15 L424.59,315.93 L425.67,315.73 L426.75,315.53 L427.82,315.34 L428.90,315.15 L429.97,314.98 L431.04,314.82 L432.11,314.66 L433.18,314.52 L434.24,314.39 L435.31,314.26 L436.37,314.15 L437.43,314.05 L438.48,313.96 L439.54,313.88 L440.59,313.82 L441.63,313.76 L442.68,313.72 L443.72,313.69 L444.76,313.68 L445.79,313.68 L446.82,313.69 L447.85,313.71 L448.87,313.75 L449.89,313.81 L450.90,313.88 L451.91,313.96 L452.91,314.06 L453.91,314.17 L454.91,314.30 L455.90,314.44 L456.88,314.60 L457.86,314.77 L458.83,314.96 L459.80,315.17 L460.76,315.39 L461.71,315.62 L462.66,315.87 L463.61,316.14 L464.54,316.42 L465.47,316.72 L466.40,317.03 L467.31,317.36 L468.22,317.70 L469.13,318.06 L470.03,318.44 L470.92,318.83 L471.80,319.23 L472.68,319.65 L473.55,320.08 L474.41,320.53 L475.27,320.99 L476.12,321.46 L476.97,321.95 L477.80,322.46 L478.64,322.97 L479.46,323.50 L480.28,324.04 L481.09,324.60 L481.89,325.16 L482.69,325.74 L483.48,326.33 L484.27,326.94 L485.05,327.55 L485.82,328.18 L486.59,328.82 L487.35,329.47 L488.11,330.13 L488.86,330.80 L489.60,331.48 L490.34,332.17 L491.07,332.88 L491.80,333.59 L492.52,334.31 L493.23,335.04 L493.94,335.78 L494.65,336.53 L495.35,337.29 L496.05,338.06 L496.74,338.84 L497.42,339.63 L498.10,340.42 L498.78,341.23 L499.45,342.04 L500.12,342.86 L500.78,343.68 L501.44,344.52 L502.09,345.36 L502.74,346.21 L503.39,347.07 L504.03,347.93 L504.67,348.81 L505.30,349.69 L505.93,350.57 L506.55,351.47 L507.17,352.37 L507.79,353.27 L508.41,354.19 L509.02,355.10 L509.62,356.03 L510.23,356.96 L510.83,357.90 L511.43,358.84 L512.02,359.79 L512.61,360.75 L513.20,361.71 L513.78,362.68 L514.36,363.65 L514.94,364.63 L515.52,365.61 L516.09,366.60 L516.66,367.60 L517.22,368.60 L517.79,369.60 L518.35,370.61 L518.91,371.63 L519.46,372.65 L520.02,373.68 L520.57,374.71 L521.12,375.74 L521.66,376.78 L522.20,377.83 L522.75,378.87 L523.28,379.93 L523.82,380.99 L524.35,382.05 L524.89,383.12 L525.42,384.19 L525.94,385.26 L526.47,386.34 L526.99,387.43 L527.51,388.52 L528.03,389.61 L528.55,390.71 L529.06,391.81 L529.58,392.92 L530.09,394.02 L530.60,395.14 L531.11,396.26 L531.61,397.38 L532.12,398.50 L532.62,399.63 L533.12,400.76 L533.62,401.90 L534.11,403.04 L534.61,404.19 L535.10,405.33 L535.59,406.48 L536.08,407.64 L536.57,408.80 L537.06,409.96 L537.55,411.13 L538.03,412.30 L538.51,413.47 L538.99,414.64 L539.47,415.82 L539.95,417.01 L540.43,418.19 L540.90,419.38 L541.38,420.58 L541.85,421.77 L542.32,422.97 L542.79,424.18 L543.26,425.38 L543.73,426.59 L544.20,427.81 L544.66,429.02 L545.12,430.24 L545.59,431.46 L546.05,432.69 L546.51,433.92 L546.97,435.15 L547.42,436.38 L547.88,437.62 L548.34,438.86 L548.79,440.11 L549.24,441.35"/>
<path stroke="#FF0000" d="M70.50,444.60 L70.57,444.58 L71.74,444.14 L72.91,443.70 L74.09,443.27 L75.26,442.83 L76.44,442.39 L77.61,441.96 L78.78,441.52 L79.96,441.09 L81.13,440.65 L82.30,440.21 L83.48,439.78 L84.65,439.34 L85.83,438.91 L87.00,438.47 L88.17,438.03 L89.35,437.60 L90.52,437.16 L91.69,436.72 L92.87,436.29 L94.04,435.85 L95.22,435.42 L96.39,434.98 L97.56,434.54 L98.74,434.11 L99.91,433.67 L101.08,433.24 L102.26,432.80 L103.43,432.36 L104.61,431.93 L105.78,431.49 L106.95,431.06 L108.13,430.62 L109.30,430.18 L110.47,429.75 L111.65,429.31 L112.82,428.87 L114.00,428.44 L115.17,428.00 L116.34,427.57 L117.52,427.13 L118.69,426.69 L119.86,426.26 L121.04,425.82 L122.21,425.39 L123.39,424.95 L124.56,424.51 L125.73,424.08 L126.91,423.64 L128.08,423.21 L129.25,422.77 L130.43,422.33 L131.60,421.90 L132.78,421.46 L133.95,421.02 L135.12,420.59 L136.30,420.15 L137.47,419.72 L138.64,419.28 L139.82,418.84 L140.99,418.41 L142.17,417.97 L143.34,417.54 L144.51,417.10 L145.69,416.66 L146.86,416.23 L148.03,415.79 L149.21,415.36 L150.38,414.92 L151.56,414.48 L152.73,414.05 L153.90,413.61 L155.08,413.17 L156.25,412.74 L157.42,412.30 L158.60,411.87 L159.77,411.43 L160.95,410.99 L162.12,410.56 L163.29,410.12 L164.47,409.69 L165.64,409.25 L166.81,408.81 L167.99,408.38 L169.16,407.94 L170.34,407.51 L171.51,407.07 L172.68,406.63 L173.86,406.20 L175.03,405.76 L176.21,405.32 L177.38,404.89 L178.55,404.45 L179.73,404.02 L180.90,403.58 L182.07,403.14 L183.25,402.71 L184.42,402.27 L185.60,401.84 L186.77,401.40 L187.94,400.96 L189.12,400.53 L190.29,400.09 L191.46,399.66 L192.64,399.22 L193.81,398.78 L194.99,398.35 L196.16,397.91 L197.33,397.48 L198.51,397.04 L199.68,396.60 L200.85,396.17 L202.03,395.73 L203.20,395.29 L204.38,394.86 L205.55,394.42 L206.72,393.99 L207.90,393.55 L209.07,393.11 L210.24,392.68 L211.42,392.24 L212.59,391.81 L213.77,391.37 L214.94,390.93 L216.11,390.50 L217.29,390.06 L218.46,389.63 L219.63,389.19 L220.81,388.75 L221.98,388.32 L223.16,387.88 L224.33,387.45 L225.50,387.01 L226.68,386.57 L227.85,386.14 L229.02,385.70 L230.20,385.27 L231.37,384.83 L232.55,384.39 L233.72,383.96 L234.89,383.52 L236.07,383.09 L237.24,382.65 L238.41,382.21 L239.59,381.78 L240.76,381.34 L241.94,380.91 L243.11,380.47 L244.28,380.03 L245.46,379.60 L246.63,379.16 L247.80,378.73 L248.98,378.29 L250.15,377.85 L251.33,377.42 L252.50,376.98 L253.67,376.55 L254.85,376.11 L256.02,375.67 L257.19,375.24 L258.37,374.80 L259.54,374.37 L260.72,373.93 L261.89,373.49 L263.06,373.06 L264.24,372.62 L265.41,372.19 L266.59,371.75 L267.76,371.31 L268.93,370.88 L270.11,370.44 L271.28,370.01 L272.45,369.57 L273.63,369.13 L274.80,368.70 L275.98,368.26 L277.15,367.83 L278.32,367.39 L279.50,366.95 L280.67,366.52 L281.84,366.08 L283.02,365.65 L284.19,365.21 L285.37,364.77 L286.54,364.34 L287.71,363.90 L288.89,363.47 L290.06,363.03 L291.23,362.60 L292.41,362.16 L293.58,361.72 L294.76,361.29 L295.93,360.85 L297.10,360.42 L298.28,359.98 L299.45,359.55 L300.62,359.11 L301.80,358.67 L302.97,358.24 L304.15,357.80 L305.32,357.37 L306.49,356.93 L307.67,356.50 L308.84,356.06 L310.01,355.63 L311.19,355.19 L312.36,354.75 L313.54,354.32 L314.71,353.88 L315.88,353.45 L317.06,353.01 L318.23,352.58 L319.40,352.14 L320.58,351.71 L321.75,351.27 L322.93,350.84 L324.10,350.40 L325.27,349.97 L326.45,349.53 L327.62,349.10 L328.79,348.66 L329.97,348.23 L331.14,347.79 L332.32,347.36 L333.49,346.92 L334.66,346.49 L335.84,346.05 L337.01,345.62 L338.18,345.18 L339.36,344.75 L340.53,344.32 L341.71,343.88 L342.88,343.45 L344.05,343.01 L345.23,342.58 L346.40,342.15 L347.57,341.71 L348.75,341.28 L349.92,340.85 L351.10,340.41 L352.27,339.98 L353.44,339.55 L354.62,339.11 L355.79,338.68 L356.96,338.25 L358.14,337.82 L359.31,337.38 L360.49,336.95 L361.66,336.52 L362.83,336.09 L364.01,335.66 L365.18,335.23 L366.35,334.79 L367.53,334.36 L368.70,333.93 L369.88,333.50 L371.05,333.07 L372.22,332.64 L373.40,332.21 L374.57,331.79 L375.74,331.36 L376.92,330.93 L378.09,330.50 L379.27,330.07 L380.44,329.65 L381.61,329.22 L382.79,328.79 L383.96,328.37 L385.13,327.94 L386.31,327.52 L387.48,327.09 L388.66,326.67 L389.83,326.25 L391.00,325.82 L392.18,325.40 L393.35,324.98 L394.52,324.56 L395.70,324.14 L396.87,323.72 L398.04,323.30 L399.22,322.89 L400.39,322.47 L401.57,322.05 L402.74,321.64 L403.91,321.23 L405.09,320.81 L406.26,320.40 L407.43,319.99 L408.61,319.58 L409.78,319.18 L410.95,318.77 L412.13,318.37 L413.30,317.96 L414.47,317.56 L415.65,317.16 L416.82,316.76 L417.99,316.37 L419.17,315.97 L420.34,315.58 L421.51,315.19 L422.68,314.80 L423.86,314.41 L425.03,314.03 L426.20,313.65 L427.37,313.27 L428.55,312.89 L429.72,312.52 L430.89,312.15 L432.06,311.78 L433.23,311.42 L434.41,311.06 L435.58,310.70 L436.75,310.35 L437.92,310.00 L439.09,309.65 L440.26,309.31 L441.43,308.97 L442.60,308.64 L443.77,308.31 L444.94,307.99 L446.11,307.67 L447.27,307.36 L448.44,307.05 L449.61,306.75 L450.78,306.45 L451.94,306.16 L453.11,305.88 L454.27,305.60 L455.44,305.34 L456.60,305.08 L457.76,304.82 L458.92,304.58 L460.08,304.34 L461.24,304.11 L462.40,303.89 L463.56,303.68 L464.71,303.48 L465.87,303.29 L467.02,303.11 L468.17,302.95 L469.32,302.79 L470.46,302.64 L471.61,302.51 L472.75,302.38 L473.89,302.28 L475.03,302.18 L476.16,302.10 L477.30,302.03 L478.43,301.97 L479.55,301.93 L480.68,301.91 L481.80,301.90 L482.91,301.90 L484.02,301.92 L485.13,301.96 L486.24,302.01 L487.33,302.09 L488.43,302.17 L489.52,302.28 L490.60,302.40 L491.68,302.55 L492.76,302.71 L493.83,302.88 L494.89,303.08 L495.95,303.30 L497.00,303.53 L498.04,303.79 L499.08,304.06 L500.11,304.35 L501.14,304.66 L502.15,304.99 L503.17,305.34 L504.17,305.71 L505.16,306.09 L506.15,306.50 L507.13,306.92 L508.11,307.37 L509.07,307.83 L510.03,308.31 L510.98,308.81 L511.93,309.32 L512.86,309.86 L513.79,310.41 L514.71,310.98 L515.62,311.57 L516.53,312.17 L517.42,312.79 L518.31,313.43 L519.19,314.08 L520.06,314.75 L520.93,315.43 L521.79,316.13 L522.64,316.84 L523.48,317.57 L524.32,318.32 L525.15,319.07 L525.97,319.85 L526.79,320.63 L527.59,321.43 L528.39,322.24 L529.19,323.07 L529.98,323.90 L530.76,324.75 L531.53,325.62 L532.30,326.49 L533.06,327.38 L533.82,328.27 L534.57,329.18 L535.31,330.10 L536.05,331.03 L536.78,331.97 L537.51,332.92 L538.23,333.88 L538.95,334.86 L539.66,335.84 L540.36,336.83 L541.06,337.83 L541.75,338.84 L542.44,339.85 L543.13,340.88 L543.81,341.92 L544.48,342.96 L545.15,344.01 L545.82,345.07 L546.48,346.14 L547.14,347.22 L547.79,348.31 L548.44,349.40 L549.08,350.50 L549.73,351.61 L550.36,352.72 L550.99,353.84 L551.62,354.97 L552.25,356.11 L552.87,357.25 L553.49,358.40 L554.10,359.56 L554.71,360.72 L555.32,361.89 L555.92,363.07 L556.52,364.25 L557.12,365.44 L557.71,366.63 L558.30,367.83 L558.89,369.04 L559.47,370.25 L560.05,371.47 L560.63,372.69 L561.21,373.92 L561.78,375.15 L562.35,376.39 L562.92,377.64 L563.48,378.89 L564.04,380.15 L564.60,381.41 L565.16,382.67 L565.71,383.95 L566.27,385.22 L566.81,386.50 L567.36,387.79 L567.91,389.08 L568.45,390.38 L568.99,391.68 L569.52,392.98 L570.06,394.29 L570.59,395.61 L571.12,396.93 L571.65,398.25 L572.18,399.58 L572.71,400.91 L573.23,402.25 L573.75,403.59 L574.27,404.93 L574.78,406.28 L575.30,407.64 L575.81,409.00 L576.32,410.36 L576.83,411.73 L577.34,413.10 L577.85,414.47 L578.35,415.85 L578.85,417.23 L579.36,418.62 L579.85,420.01 L580.35,421.40 L580.85,422.80 L581.34,424.20 L581.84,425.61 L582.33,427.02 L582.82,428.43 L583.30,429.85 L583.79,431.27 L584.28,432.69 L584.76,434.12 L585.24,435.55 L585.72,436.99 L586.20,438.42 L586.68,439.87 L587.16,441.31 L587.63,442.76"/>
<path stroke="#0072BD" d="M70.50,444.60 L70.56,444.58 L71.79,444.13 L73.02,443.68 L74.24,443.23 L75.47,442.78 L76.70,442.34 L77.93,441.89 L79.16,441.44 L80.39,440.99 L81.62,440.54 L82.84,440.09 L84.07,439.65 L85.30,439.20 L86.53,438.75 L87.76,438.30 L88.99,437.85 L90.22,437.41 L91.45,436.96 L92.67,436.51 L93.90,436.06 L95.13,435.61 L96.36,435.17 L97.59,434.72 L98.82,434.27 L100.05,433.82 L101.27,433.38 L102.50,432.93 L103.73,432.48 L104.96,432.03 L106.19,431.59 L107.42,431.14 L108.65,430.69 L109.88,430.24 L111.10,429.80 L112.33,429.35 L113.56,428.90 L114.79,428.45 L116.02,428.01 L117.25,427.56 L118.48,427.11 L119.71,426.67 L120.93,426.22 L122.16,425.77 L123.39,425.33 L124.62,424.88 L125.85,424.43 L127.08,423.98 L128.31,423.54 L129.53,423.09 L130.76,422.64 L131.99,422.20 L133.22,421.75 L134.45,421.30 L135.68,420.86 L136.91,420.41 L138.14,419.96 L139.36,419.52 L140.59,419.07 L141.82,418.63 L143.05,418.18 L144.28,417.73 L145.51,417.29 L146.74,416.84 L147.97,416.39 L149.19,415.95 L150.42,415.50 L151.65,415.06 L152.88,414.61 L154.11,414.16 L155.34,413.72 L156.57,413.27 L157.79,412.83 L159.02,412.38 L160.25,411.93 L161.48,411.49 L162.71,411.04 L163.94,410.60 L165.17,410.15 L166.40,409.71 L167.62,409.26 L168.85,408.81 L170.08,408.37 L171.31,407.92 L172.54,407.48 L173.77,407.03 L175.00,406.59 L176.22,406.14 L177.45,405.70 L178.68,405.25 L179.91,404.81 L181.14,404.36 L182.37,403.92 L183.60,403.47 L184.83,403.03 L186.05,402.58 L187.28,402.14 L188.51,401.69 L189.74,401.25 L190.97,400.80 L192.20,400.36 L193.43,399.91 L194.66,399.47 L195.88,399.02 L197.11,398.58 L198.34,398.13 L199.57,397.69 L200.80,397.24 L202.03,396.80 L203.26,396.36 L204.48,395.91 L205.71,395.47 L206.94,395.02 L208.17,394.58 L209.40,394.13 L210.63,393.69 L211.86,393.25 L213.09,392.80 L214.31,392.36 L215.54,391.91 L216.77,391.47 L218.00,391.03 L219.23,390.58 L220.46,390.14 L221.69,389.69 L222.92,389.25 L224.14,388.81 L225.37,388.36 L226.60,387.92 L227.83,387.47 L229.06,387.03 L230.29,386.59 L231.52,386.14 L232.74,385.70 L233.97,385.26 L235.20,384.81 L236.43,384.37 L237.66,383.93 L238.89,383.48 L240.12,383.04 L241.35,382.60 L242.57,382.15 L243.80,381.71 L245.03,381.27 L246.26,380.82 L247.49,380.38 L248.72,379.94 L249.95,379.49 L251.17,379.05 L252.40,378.61 L253.63,378.17 L254.86,377.72 L256.09,377.28 L257.32,376.84 L258.55,376.39 L259.78,375.95 L261.00,375.51 L262.23,375.07 L263.46,374.62 L264.69,374.18 L265.92,373.74 L267.15,373.30 L268.38,372.85 L269.61,372.41 L270.83,371.97 L272.06,371.53 L273.29,371.09 L274.52,370.64 L275.75,370.20 L276.98,369.76 L278.21,369.32 L279.43,368.87 L280.66,368.43 L281.89,367.99 L283.12,367.55 L284.35,367.11 L285.58,366.66 L286.81,366.22 L288.04,365.78 L289.26,365.34 L290.49,364.90 L291.72,364.46 L292.95,364.01 L294.18,363.57 L295.41,363.13 L296.64,362.69 L297.87,362.25 L299.09,361.81 L300.32,361.36 L301.55,360.92 L302.78,360.48 L304.01,360.04 L305.24,359.60 L306.47,359.16 L307.69,358.72 L308.92,358.28 L310.15,357.83 L311.38,357.39 L312.61,356.95 L313.84,356.51 L315.07,356.07 L316.30,355.63 L317.52,355.19 L318.75,354.75 L319.98,354.31 L321.21,353.87 L322.44,353.43 L323.67,352.99 L324.90,352.54 L326.12,352.10 L327.35,351.66 L328.58,351.22 L329.81,350.78 L331.04,350.34 L332.27,349.90 L333.50,349.46 L334.73,349.02 L335.95,348.58 L337.18,348.14 L338.41,347.70 L339.64,347.26 L340.87,346.82 L342.10,346.38 L343.33,345.94 L344.56,345.50 L345.78,345.06 L347.01,344.62 L348.24,344.18 L349.47,343.74 L350.70,343.30 L351.93,342.86 L353.16,342.42 L354.38,341.98 L355.61,341.54 L356.84,341.10 L358.07,340.66 L359.30,340.22 L360.53,339.78 L361.76,339.34 L362.99,338.90 L364.21,338.47 L365.44,338.03 L366.67,337.59 L367.90,337.15 L369.13,336.71 L370.36,336.27 L371.59,335.83 L372.81,335.39 L374.04,334.95 L375.27,334.51 L376.50,334.08 L377.73,333.64 L378.96,333.20 L380.19,332.76 L381.42,332.32 L382.64,331.88 L383.87,331.44 L385.10,331.01 L386.33,330.57 L387.56,330.13 L388.79,329.69 L390.02,329.25 L391.25,328.81 L392.47,328.38 L393.70,327.94 L394.93,327.50 L396.16,327.06 L397.39,326.63 L398.62,326.19 L399.85,325.75 L401.07,325.31 L402.30,324.88 L403.53,324.44 L404.76,324.00 L405.99,323.57 L407.22,323.13 L408.45,322.69 L409.68,322.26 L410.90,321.82 L412.13,321.38 L413.36,320.95 L414.59,320.51 L415.82,320.08 L417.05,319.64 L418.28,319.21 L419.50,318.77 L420.73,318.34 L421.96,317.90 L423.19,317.47 L424.42,317.03 L425.65,316.60 L426.88,316.17 L428.11,315.73 L429.33,315.30 L430.56,314.87 L431.79,314.44 L433.02,314.00 L434.25,313.57 L435.48,313.14 L436.71,312.71 L437.93,312.28 L439.16,311.85 L440.39,311.43 L441.62,311.00 L442.85,310.57 L444.08,310.15 L445.31,309.72 L446.53,309.30 L447.76,308.87 L448.99,308.45 L450.22,308.03 L451.45,307.61 L452.68,307.19 L453.91,306.77 L455.13,306.36 L456.36,305.94 L457.59,305.53 L458.82,305.11 L460.05,304.70 L461.28,304.30 L462.50,303.89 L463.73,303.49 L464.96,303.09 L466.19,302.69 L467.42,302.29 L468.64,301.90 L469.87,301.51 L471.10,301.12 L472.33,300.73 L473.56,300.35 L474.78,299.98 L476.01,299.61 L477.24,299.24 L478.46,298.87 L479.69,298.52 L480.92,298.16 L482.14,297.82 L483.37,297.48 L484.59,297.14 L485.82,296.82 L487.04,296.50 L488.26,296.18 L489.49,295.88 L490.71,295.58 L491.93,295.30 L493.15,295.02 L494.37,294.76 L495.59,294.50 L496.81,294.26 L498.02,294.03 L499.24,293.82 L500.45,293.61 L501.66,293.42 L502.87,293.25 L504.07,293.09 L505.28,292.95 L506.48,292.83 L507.68,292.73 L508.87,292.64 L510.06,292.58 L511.25,292.53 L512.43,292.51 L513.61,292.51 L514.78,292.53 L515.95,292.57 L517.11,292.64 L518.27,292.74 L519.42,292.85 L520.56,293.00 L521.70,293.17 L522.83,293.37 L523.95,293.59 L525.06,293.84 L526.16,294.12 L527.26,294.42 L528.34,294.76 L529.42,295.12 L530.49,295.50 L531.54,295.91 L532.59,296.35 L533.63,296.82 L534.66,297.31 L535.67,297.83 L536.68,298.37 L537.68,298.93 L538.66,299.52 L539.64,300.14 L540.60,300.78 L541.56,301.43 L542.51,302.12 L543.44,302.82 L544.37,303.54 L545.28,304.29 L546.19,305.05 L547.09,305.83 L547.98,306.63 L548.86,307.45 L549.73,308.29 L550.59,309.15 L551.44,310.02 L552.29,310.91 L553.12,311.81 L553.95,312.73 L554.78,313.66 L555.59,314.61 L556.40,315.57 L557.20,316.55 L557.99,317.53 L558.78,318.54 L559.55,319.55 L560.33,320.58 L561.09,321.62 L561.85,322.67 L562.61,323.73 L563.36,324.80 L564.10,325.88 L564.84,326.98 L565.57,328.08 L566.30,329.20 L567.02,330.32 L567.74,331.45 L568.45,332.60 L569.16,333.75 L569.86,334.91 L570.56,336.08 L571.25,337.26 L571.94,338.44 L572.62,339.64 L573.31,340.84 L573.98,342.05 L574.66,343.27 L575.33,344.50 L575.99,345.73 L576.65,346.97 L577.31,348.22 L577.97,349.47 L578.62,350.74 L579.27,352.01 L579.92,353.28 L580.56,354.56 L581.20,355.85 L581.83,357.15 L582.47,358.45 L583.10,359.76 L583.73,361.07 L584.35,362.39 L584.97,363.72 L585.59,365.05 L586.21,366.39 L586.83,367.73 L587.44,369.08 L588.05,370.44 L588.66,371.80 L589.26,373.16 L589.87,374.54 L590.47,375.91 L591.07,377.30 L591.66,378.68 L592.26,380.08 L592.85,381.47 L593.44,382.88 L594.03,384.28 L594.62,385.70 L595.20,387.12 L595.78,388.54 L596.37,389.97 L596.94,391.40 L597.52,392.83 L598.10,394.28 L598.67,395.72 L599.25,397.17 L599.82,398.63 L600.39,400.09 L600.95,401.55 L601.52,403.02 L602.08,404.50 L602.65,405.97 L603.21,407.46 L603.77,408.94 L604.33,410.43 L604.89,411.93 L605.44,413.43 L606.00,414.93 L606.55,416.44 L607.10,417.95 L607.65,419.47 L608.20,420.99 L608.75,422.51 L609.30,424.04 L609.85,425.58 L610.39,427.11 L610.94,428.65 L611.48,430.20 L612.02,431.75 L612.56,433.30 L613.10,434.85 L613.64,436.41 L614.17,437.98 L614.71,439.55 L615.25,441.12 L615.78,442.69"/>
</g>
<g fill="none" stroke-width="5.0" stroke-linejoin="round" stroke-linecap="butt">
<path stroke="#FF0000" d="M805.50,24.89 L805.57,24.89 L806.74,24.89 L807.91,24.90 L809.09,24.90 L810.26,24.90 L811.43,24.90 L812.60,24.90 L813.77,24.90 L814.95,24.90 L816.12,24.91 L817.29,24.91 L818.46,24.91 L819.63,24.91 L820.81,24.91 L821.98,24.91 L823.15,24.91 L824.32,24.92 L825.49,24.92 L826.67,24.92 L827.84,24.92 L829.01,24.92 L830.18,24.92 L831.35,24.93 L832.53,24.93 L833.70,24.93 L834.87,24.93 L836.04,24.93 L837.21,24.93 L838.38,24.93 L839.56,24.94 L840.73,24.94 L841.90,24.94 L843.07,24.94 L844.24,24.94 L845.42,24.94 L846.59,24.94 L847.76,24.95 L848.93,24.95 L850.10,24.95 L851.28,24.95 L852.45,24.95 L853.62,24.95 L854.79,24.96 L855.96,24.96 L857.14,24.96 L858.31,24.96 L859.48,24.96 L860.65,24.96 L861.82,24.96 L863.00,24.97 L864.17,24.97 L865.34,24.97 L866.51,24.97 L867.68,24.97 L868.86,24.97 L870.03,24.98 L871.20,24.98 L872.37,24.98 L873.54,24.98 L874.72,24.98 L875.89,24.98 L877.06,24.98 L878.23,24.99 L879.40,24.99 L880.57,24.99 L881.75,24.99 L882.92,24.99 L884.09,24.99 L885.26,24.99 L886.43,25.00 L887.61,25.00 L888.78,25.00 L889.95,25.00 L891.12,25.00 L892.29,25.00 L893.47,25.01 L894.64,25.01 L895.81,25.01 L896.98,25.01 L898.15,25.01 L899.33,25.01 L900.50,25.01 L901.67,25.02 L902.84,25.02 L904.01,25.02 L905.19,25.02 L906.36,25.02 L907.53,25.02 L908.70,25.03 L909.87,25.03 L911.05,25.03 L912.22,25.03 L913.39,25.03 L914.56,25.03 L915.73,25.03 L916.91,25.04 L918.08,25.04 L919.25,25.04 L920.42,25.04 L921.59,25.04 L922.76,25.04 L923.94,25.04 L925.11,25.05 L926.28,25.05 L927.45,25.05 L928.62,25.05 L929.80,25.05 L930.97,25.05 L932.14,25.06 L933.31,25.06 L934.48,25.06 L935.66,25.06 L936.83,25.06 L938.00,25.06 L939.17,25.06 L940.34,25.07 L941.52,25.07 L942.69,25.07 L943.86,25.07 L945.03,25.07 L946.20,25.07 L947.38,25.08 L948.55,25.08 L949.72,25.08 L950.89,25.08 L952.06,25.08 L953.24,25.08 L954.41,25.08 L955.58,25.09 L956.75,25.09 L957.92,25.09 L959.10,25.09 L960.27,25.09 L961.44,25.09 L962.61,25.10 L963.78,25.10 L964.95,25.10 L966.13,25.10 L967.30,25.10 L968.47,25.10 L969.64,25.10 L970.81,25.11 L971.99,25.11 L973.16,25.11 L974.33,25.11 L975.50,25.11 L976.67,25.11 L977.85,25.11 L979.02,25.12 L980.19,25.12 L981.36,25.12 L982.53,25.12 L983.71,25.12 L984.88,25.12 L986.05,25.13 L987.22,25.13 L988.39,25.13 L989.57,25.13 L990.74,25.13 L991.91,25.13 L993.08,25.13 L994.25,25.14 L995.43,25.14 L996.60,25.14 L997.77,25.14 L998.94,25.14 L1000.11,25.14 L1001.29,25.15 L1002.46,25.15 L1003.63,25.15 L1004.80,25.15 L1005.97,25.15 L1007.14,25.15 L1008.32,25.16 L1009.49,25.16 L1010.66,25.16 L1011.83,25.16 L1013.00,25.16 L1014.18,25.16 L1015.35,25.16 L1016.52,25.17 L1017.69,25.17 L1018.86,25.17 L1020.04,25.17 L1021.21,25.17 L1022.38,25.17 L1023.55,25.18 L1024.72,25.18 L1025.90,25.18 L1027.07,25.18 L1028.24,25.18 L1029.41,25.18 L1030.58,25.19 L1031.76,25.19 L1032.93,25.19 L1034.10,25.19 L1035.27,25.19 L1036.44,25.20 L1037.62,25.20 L1038.79,25.20 L1039.96,25.20 L1041.13,25.20 L1042.30,25.20 L1043.48,25.21 L1044.65,25.21 L1045.82,25.21 L1046.99,25.21 L1048.16,25.21 L1049.33,25.22 L1050.51,25.22 L1051.68,25.22 L1052.85,25.22 L1054.02,25.22 L1055.19,25.23 L1056.37,25.23 L1057.54,25.23 L1058.71,25.23 L1059.88,25.23 L1061.05,25.24 L1062.23,25.24 L1063.40,25.24 L1064.57,25.24 L1065.74,25.24 L1066.91,25.25 L1068.09,25.25 L1069.26,25.25 L1070.43,25.25 L1071.60,25.26 L1072.77,25.26 L1073.95,25.26 L1075.12,25.26 L1076.29,25.27 L1077.46,25.27 L1078.63,25.27 L1079.81,25.28 L1080.98,25.28 L1082.15,25.28 L1083.32,25.29 L1084.49,25.29 L1085.66,25.29 L1086.84,25.30 L1088.01,25.30 L1089.18,25.30 L1090.35,25.31 L1091.52,25.31 L1092.70,25.31 L1093.87,25.32 L1095.04,25.32 L1096.21,25.33 L1097.38,25.33 L1098.56,25.34 L1099.73,25.34 L1100.90,25.35 L1102.07,25.35 L1103.24,25.36 L1104.42,25.36 L1105.59,25.37 L1106.76,25.37 L1107.93,25.38 L1109.10,25.39 L1110.28,25.39 L1111.45,25.40 L1112.62,25.41 L1113.79,25.41 L1114.96,25.42 L1116.14,25.43 L1117.31,25.44 L1118.48,25.45 L1119.65,25.46 L1120.82,25.46 L1121.99,25.47 L1123.17,25.48 L1124.34,25.50 L1125.51,25.51 L1126.68,25.52 L1127.85,25.53 L1129.03,25.54 L1130.20,25.56 L1131.37,25.57 L1132.54,25.58 L1133.71,25.60 L1134.89,25.62 L1136.06,25.63 L1137.23,25.65 L1138.40,25.67 L1139.57,25.69 L1140.74,25.71 L1141.92,25.73 L1143.09,25.75 L1144.26,25.77 L1145.43,25.79 L1146.60,25.82 L1147.78,25.84 L1148.95,25.87 L1150.12,25.90 L1151.29,25.93 L1152.46,25.96 L1153.63,25.99 L1154.80,26.02 L1155.98,26.06 L1157.15,26.10 L1158.32,26.14 L1159.49,26.18 L1160.66,26.22 L1161.83,26.26 L1163.00,26.31 L1164.18,26.36 L1165.35,26.41 L1166.52,26.47 L1167.69,26.52 L1168.86,26.58 L1170.03,26.64 L1171.20,26.71 L1172.37,26.78 L1173.54,26.85 L1174.71,26.92 L1175.88,27.00 L1177.05,27.08 L1178.22,27.17 L1179.39,27.25 L1180.56,27.35 L1181.72,27.45 L1182.89,27.55 L1184.06,27.66 L1185.23,27.77 L1186.39,27.89 L1187.56,28.01 L1188.73,28.14 L1189.89,28.27 L1191.06,28.41 L1192.22,28.56 L1193.38,28.72 L1194.55,28.88 L1195.71,29.05 L1196.87,29.22 L1198.03,29.40 L1199.19,29.60 L1200.34,29.80 L1201.50,30.01 L1202.65,30.22 L1203.81,30.45 L1204.96,30.69 L1206.11,30.93 L1207.26,31.19 L1208.40,31.46 L1209.54,31.74 L1210.69,32.03 L1211.82,32.33 L1212.96,32.64 L1214.09,32.97 L1215.22,33.31 L1216.35,33.66 L1217.47,34.02 L1218.59,34.40 L1219.70,34.79 L1220.82,35.20 L1221.92,35.62 L1223.02,36.05 L1224.12,36.50 L1225.21,36.96 L1226.30,37.43 L1227.38,37.93 L1228.45,38.43 L1229.52,38.95 L1230.58,39.49 L1231.64,40.04 L1232.69,40.60 L1233.73,41.18 L1234.77,41.78 L1235.79,42.39 L1236.81,43.01 L1237.83,43.65 L1238.83,44.31 L1239.83,44.97 L1240.82,45.65 L1241.80,46.35 L1242.77,47.05 L1243.74,47.77 L1244.69,48.51 L1245.64,49.25 L1246.58,50.01 L1247.51,50.78 L1248.43,51.57 L1249.35,52.36 L1250.26,53.16 L1251.15,53.98 L1252.04,54.81 L1252.92,55.64 L1253.80,56.49 L1254.66,57.34 L1255.52,58.21 L1256.37,59.08 L1257.21,59.97 L1258.04,60.86 L1258.87,61.76 L1259.69,62.67 L1260.50,63.58 L1261.30,64.51 L1262.10,65.44 L1262.89,66.38 L1263.67,67.32 L1264.45,68.27 L1265.21,69.23 L1265.98,70.19 L1266.73,71.16 L1267.48,72.14 L1268.23,73.12 L1268.96,74.11 L1269.69,75.10 L1270.42,76.10 L1271.14,77.10 L1271.85,78.10 L1272.56,79.12 L1273.26,80.13 L1273.96,81.15 L1274.65,82.17 L1275.34,83.20 L1276.02,84.23 L1276.70,85.27 L1277.37,86.31 L1278.04,87.35 L1278.70,88.40 L1279.36,89.45 L1280.01,90.50 L1280.66,91.56 L1281.31,92.62 L1281.95,93.68 L1282.59,94.74 L1283.22,95.81 L1283.85,96.88 L1284.48,97.95 L1285.10,99.03 L1285.72,100.11 L1286.33,101.19 L1286.94,102.27 L1287.55,103.36 L1288.15,104.44 L1288.75,105.53 L1289.35,106.63 L1289.94,107.72 L1290.54,108.82 L1291.12,109.91 L1291.71,111.01 L1292.29,112.11 L1292.87,113.22 L1293.45,114.32 L1294.02,115.43 L1294.59,116.54 L1295.16,117.65 L1295.72,118.76 L1296.28,119.87 L1296.84,120.99 L1297.40,122.10 L1297.96,123.22 L1298.51,124.34 L1299.06,125.46 L1299.61,126.58 L1300.15,127.71 L1300.70,128.83 L1301.24,129.96 L1301.77,131.08 L1302.31,132.21 L1302.85,133.34 L1303.38,134.47 L1303.91,135.60 L1304.44,136.74 L1304.96,137.87 L1305.49,139.00 L1306.01,140.14 L1306.53,141.28 L1307.05,142.41 L1307.57,143.55 L1308.08,144.69 L1308.60,145.83 L1309.11,146.98 L1309.62,148.12 L1310.12,149.26 L1310.63,150.41 L1311.14,151.55 L1311.64,152.70 L1312.14,153.84 L1312.64,154.99 L1313.14,156.14 L1313.64,157.29 L1314.13,158.44 L1314.63,159.59 L1315.12,160.74 L1315.61,161.89 L1316.10,163.05 L1316.59,164.20 L1317.08,165.35 L1317.56,166.51 L1318.05,167.66 L1318.53,168.82 L1319.01,169.98 L1319.49,171.13 L1319.97,172.29 L1320.45,173.45 L1320.93,174.61 L1321.40,175.77"/>
<path stroke="#0072BD" d="M805.50,86.04 L805.50,86.04 L806.58,86.04 L807.67,86.04 L808.75,86.04 L809.83,86.04 L810.91,86.04 L811.99,86.04 L813.07,86.05 L814.15,86.05 L815.24,86.05 L816.32,86.05 L817.40,86.05 L818.48,86.05 L819.56,86.05 L820.64,86.05 L821.73,86.05 L822.81,86.05 L823.89,86.05 L824.97,86.05 L826.05,86.05 L827.13,86.05 L828.21,86.05 L829.30,86.05 L830.38,86.05 L831.46,86.06 L832.54,86.06 L833.62,86.06 L834.70,86.06 L835.79,86.06 L836.87,86.06 L837.95,86.06 L839.03,86.06 L840.11,86.06 L841.19,86.06 L842.27,86.06 L843.36,86.06 L844.44,86.06 L845.52,86.06 L846.60,86.06 L847.68,86.06 L848.76,86.06 L849.84,86.07 L850.93,86.07 L852.01,86.07 L853.09,86.07 L854.17,86.07 L855.25,86.07 L856.33,86.07 L857.42,86.07 L858.50,86.07 L859.58,86.07 L860.66,86.07 L861.74,86.07 L862.82,86.07 L863.90,86.07 L864.99,86.07 L866.07,86.07 L867.15,86.07 L868.23,86.07 L869.31,86.08 L870.39,86.08 L871.48,86.08 L872.56,86.08 L873.64,86.08 L874.72,86.08 L875.80,86.08 L876.88,86.08 L877.96,86.08 L879.05,86.08 L880.13,86.08 L881.21,86.08 L882.29,86.08 L883.37,86.08 L884.45,86.08 L885.54,86.08 L886.62,86.08 L887.70,86.09 L888.78,86.09 L889.86,86.09 L890.94,86.09 L892.02,86.09 L893.11,86.09 L894.19,86.09 L895.27,86.09 L896.35,86.09 L897.43,86.09 L898.51,86.09 L899.60,86.09 L900.68,86.09 L901.76,86.09 L902.84,86.09 L903.92,86.09 L905.00,86.09 L906.08,86.10 L907.17,86.10 L908.25,86.10 L909.33,86.10 L910.41,86.10 L911.49,86.10 L912.57,86.10 L913.66,86.10 L914.74,86.10 L915.82,86.10 L916.90,86.10 L917.98,86.10 L919.06,86.10 L920.14,86.10 L921.23,86.10 L922.31,86.10 L923.39,86.10 L924.47,86.11 L925.55,86.11 L926.63,86.11 L927.72,86.11 L928.80,86.11 L929.88,86.11 L930.96,86.11 L932.04,86.11 L933.12,86.11 L934.20,86.11 L935.29,86.11 L936.37,86.11 L937.45,86.11 L938.53,86.11 L939.61,86.11 L940.69,86.11 L941.78,86.11 L942.86,86.11 L943.94,86.12 L945.02,86.12 L946.10,86.12 L947.18,86.12 L948.26,86.12 L949.35,86.12 L950.43,86.12 L951.51,86.12 L952.59,86.12 L953.67,86.12 L954.75,86.12 L955.84,86.12 L956.92,86.12 L958.00,86.12 L959.08,86.12 L960.16,86.12 L961.24,86.12 L962.32,86.13 L963.41,86.13 L964.49,86.13 L965.57,86.13 L966.65,86.13 L967.73,86.13 L968.81,86.13 L969.89,86.13 L970.98,86.13 L972.06,86.13 L973.14,86.13 L974.22,86.13 L975.30,86.13 L976.38,86.13 L977.47,86.13 L978.55,86.13 L979.63,86.13 L980.71,86.14 L981.79,86.14 L982.87,86.14 L983.95,86.14 L985.04,86.14 L986.12,86.14 L987.20,86.14 L988.28,86.14 L989.36,86.14 L990.44,86.14 L991.53,86.14 L992.61,86.14 L993.69,86.14 L994.77,86.14 L995.85,86.14 L996.93,86.14 L998.01,86.15 L999.10,86.15 L1000.18,86.15 L1001.26,86.15 L1002.34,86.15 L1003.42,86.15 L1004.50,86.15 L1005.59,86.15 L1006.67,86.15 L1007.75,86.15 L1008.83,86.15 L1009.91,86.15 L1010.99,86.15 L1012.07,86.15 L1013.16,86.15 L1014.24,86.15 L1015.32,86.16 L1016.40,86.16 L1017.48,86.16 L1018.56,86.16 L1019.65,86.16 L1020.73,86.16 L1021.81,86.16 L1022.89,86.16 L1023.97,86.16 L1025.05,86.16 L1026.13,86.16 L1027.22,86.16 L1028.30,86.16 L1029.38,86.16 L1030.46,86.16 L1031.54,86.16 L1032.62,86.17 L1033.71,86.17 L1034.79,86.17 L1035.87,86.17 L1036.95,86.17 L1038.03,86.17 L1039.11,86.17 L1040.19,86.17 L1041.28,86.17 L1042.36,86.17 L1043.44,86.17 L1044.52,86.17 L1045.60,86.17 L1046.68,86.18 L1047.77,86.18 L1048.85,86.18 L1049.93,86.18 L1051.01,86.18 L1052.09,86.18 L1053.17,86.18 L1054.25,86.18 L1055.34,86.18 L1056.42,86.18 L1057.50,86.18 L1058.58,86.18 L1059.66,86.19 L1060.74,86.19 L1061.83,86.19 L1062.91,86.19 L1063.99,86.19 L1065.07,86.19 L1066.15,86.19 L1067.23,86.19 L1068.31,86.19 L1069.40,86.19 L1070.48,86.20 L1071.56,86.20 L1072.64,86.20 L1073.72,86.20 L1074.80,86.20 L1075.89,86.20 L1076.97,86.20 L1078.05,86.20 L1079.13,86.21 L1080.21,86.21 L1081.29,86.21 L1082.37,86.21 L1083.46,86.21 L1084.54,86.21 L1085.62,86.21 L1086.70,86.22 L1087.78,86.22 L1088.86,86.22 L1089.94,86.22 L1091.03,86.22 L1092.11,86.22 L1093.19,86.23 L1094.27,86.23 L1095.35,86.23 L1096.43,86.23 L1097.52,86.23 L1098.60,86.24 L1099.68,86.24 L1100.76,86.24 L1101.84,86.24 L1102.92,86.25 L1104.00,86.25 L1105.09,86.25 L1106.17,86.26 L1107.25,86.26 L1108.33,86.26 L1109.41,86.26 L1110.49,86.27 L1111.58,86.27 L1112.66,86.27 L1113.74,86.28 L1114.82,86.28 L1115.90,86.29 L1116.98,86.29 L1118.06,86.29 L1119.15,86.30 L1120.23,86.30 L1121.31,86.31 L1122.39,86.31 L1123.47,86.32 L1124.55,86.32 L1125.64,86.33 L1126.72,86.33 L1127.80,86.34 L1128.88,86.35 L1129.96,86.35 L1131.04,86.36 L1132.12,86.37 L1133.21,86.37 L1134.29,86.38 L1135.37,86.39 L1136.45,86.40 L1137.53,86.41 L1138.61,86.41 L1139.70,86.42 L1140.78,86.43 L1141.86,86.44 L1142.94,86.45 L1144.02,86.46 L1145.10,86.48 L1146.18,86.49 L1147.27,86.50 L1148.35,86.51 L1149.43,86.53 L1150.51,86.54 L1151.59,86.56 L1152.67,86.57 L1153.75,86.59 L1154.84,86.60 L1155.92,86.62 L1157.00,86.64 L1158.08,86.66 L1159.16,86.68 L1160.24,86.70 L1161.32,86.72 L1162.41,86.74 L1163.49,86.76 L1164.57,86.79 L1165.65,86.81 L1166.73,86.84 L1167.81,86.87 L1168.89,86.89 L1169.97,86.92 L1171.06,86.95 L1172.14,86.99 L1173.22,87.02 L1174.30,87.06 L1175.38,87.09 L1176.46,87.13 L1177.54,87.17 L1178.62,87.21 L1179.70,87.26 L1180.78,87.30 L1181.86,87.35 L1182.94,87.40 L1184.03,87.45 L1185.11,87.50 L1186.19,87.56 L1187.27,87.62 L1188.35,87.68 L1189.43,87.74 L1190.51,87.81 L1191.59,87.87 L1192.67,87.95 L1193.74,88.02 L1194.82,88.10 L1195.90,88.18 L1196.98,88.27 L1198.06,88.35 L1199.14,88.45 L1200.22,88.54 L1201.29,88.64 L1202.37,88.75 L1203.45,88.86 L1204.52,88.97 L1205.60,89.09 L1206.68,89.21 L1207.75,89.34 L1208.83,89.47 L1209.90,89.61 L1210.97,89.75 L1212.05,89.90 L1213.12,90.06 L1214.19,90.22 L1215.26,90.39 L1216.33,90.57 L1217.40,90.75 L1218.46,90.94 L1219.53,91.14 L1220.59,91.34 L1221.66,91.55 L1222.72,91.77 L1223.78,92.00 L1224.84,92.24 L1225.90,92.49 L1226.95,92.74 L1228.01,93.01 L1229.06,93.28 L1230.11,93.57 L1231.15,93.86 L1232.20,94.17 L1233.24,94.49 L1234.28,94.81 L1235.31,95.15 L1236.34,95.50 L1237.37,95.86 L1238.40,96.23 L1239.42,96.61 L1240.44,97.01 L1241.45,97.42 L1242.46,97.84 L1243.47,98.27 L1244.47,98.71 L1245.46,99.17 L1246.45,99.64 L1247.44,100.12 L1248.42,100.62 L1249.40,101.12 L1250.36,101.64 L1251.33,102.18 L1252.28,102.72 L1253.24,103.28 L1254.18,103.85 L1255.12,104.43 L1256.05,105.03 L1256.98,105.63 L1257.89,106.25 L1258.80,106.88 L1259.71,107.53 L1260.61,108.18 L1261.50,108.85 L1262.38,109.52 L1263.25,110.21 L1264.12,110.91 L1264.98,111.62 L1265.84,112.33 L1266.68,113.06 L1267.52,113.80 L1268.36,114.55 L1269.18,115.31 L1270.00,116.08 L1270.81,116.85 L1271.61,117.64 L1272.41,118.43 L1273.20,119.23 L1273.98,120.04 L1274.75,120.86 L1275.52,121.68 L1276.28,122.51 L1277.04,123.35 L1277.78,124.20 L1278.53,125.05 L1279.26,125.91 L1279.99,126.77 L1280.71,127.65 L1281.43,128.52 L1282.14,129.41 L1282.84,130.30 L1283.54,131.19 L1284.23,132.09 L1284.92,132.99 L1285.60,133.90 L1286.27,134.82 L1286.94,135.74 L1287.61,136.66 L1288.27,137.59 L1288.92,138.52 L1289.57,139.46 L1290.22,140.40 L1290.86,141.34 L1291.49,142.29 L1292.12,143.24 L1292.75,144.20 L1293.37,145.16 L1293.98,146.12 L1294.59,147.09 L1295.20,148.06 L1295.81,149.03 L1296.40,150.00 L1297.00,150.98 L1297.59,151.96 L1298.18,152.94 L1298.76,153.93 L1299.34,154.92 L1299.92,155.91 L1300.49,156.90 L1301.06,157.90 L1301.63,158.90 L1302.19,159.90 L1302.75,160.90 L1303.30,161.90 L1303.85,162.91 L1304.40,163.92 L1304.95,164.93 L1305.49,165.94 L1306.03,166.96 L1306.57,167.98 L1307.10,168.99 L1307.63,170.01 L1308.16,171.04 L1308.69,172.06 L1309.21,173.09 L1309.73,174.11 L1310.25,175.14 L1310.76,176.17"/>
<path stroke="#77AC30" d="M805.50,162.39 L805.54,162.39 L806.47,162.39 L807.41,162.39 L808.34,162.39 L809.28,162.39 L810.22,162.39 L811.15,162.40 L812.09,162.40 L813.02,162.40 L813.96,162.40 L814.90,162.40 L815.83,162.40 L816.77,162.40 L817.70,162.40 L818.64,162.40 L819.58,162.40 L820.51,162.40 L821.45,162.40 L822.38,162.40 L823.32,162.40 L824.26,162.40 L825.19,162.40 L826.13,162.40 L827.06,162.40 L828.00,162.40 L828.94,162.40 L829.87,162.40 L830.81,162.40 L831.74,162.40 L832.68,162.40 L833.61,162.40 L834.55,162.40 L835.49,162.40 L836.42,162.40 L837.36,162.41 L838.29,162.41 L839.23,162.41 L840.17,162.41 L841.10,162.41 L842.04,162.41 L842.97,162.41 L843.91,162.41 L844.85,162.41 L845.78,162.41 L846.72,162.41 L847.65,162.41 L848.59,162.41 L849.53,162.41 L850.46,162.41 L851.40,162.41 L852.33,162.41 L853.27,162.41 L854.21,162.41 L855.14,162.41 L856.08,162.41 L857.01,162.41 L857.95,162.41 L858.88,162.41 L859.82,162.41 L860.76,162.41 L861.69,162.41 L862.63,162.42 L863.56,162.42 L864.50,162.42 L865.44,162.42 L866.37,162.42 L867.31,162.42 L868.24,162.42 L869.18,162.42 L870.12,162.42 L871.05,162.42 L871.99,162.42 L872.92,162.42 L873.86,162.42 L874.80,162.42 L875.73,162.42 L876.67,162.42 L877.60,162.42 L878.54,162.42 L879.48,162.42 L880.41,162.42 L881.35,162.42 L882.28,162.42 L883.22,162.42 L884.15,162.42 L885.09,162.42 L886.03,162.42 L886.96,162.42 L887.90,162.43 L888.83,162.43 L889.77,162.43 L890.71,162.43 L891.64,162.43 L892.58,162.43 L893.51,162.43 L894.45,162.43 L895.39,162.43 L896.32,162.43 L897.26,162.43 L898.19,162.43 L899.13,162.43 L900.07,162.43 L901.00,162.43 L901.94,162.43 L902.87,162.43 L903.81,162.43 L904.75,162.43 L905.68,162.43 L906.62,162.43 L907.55,162.43 L908.49,162.43 L909.43,162.43 L910.36,162.43 L911.30,162.43 L912.23,162.43 L913.17,162.43 L914.10,162.44 L915.04,162.44 L915.98,162.44 L916.91,162.44 L917.85,162.44 L918.78,162.44 L919.72,162.44 L920.66,162.44 L921.59,162.44 L922.53,162.44 L923.46,162.44 L924.40,162.44 L925.34,162.44 L926.27,162.44 L927.21,162.44 L928.14,162.44 L929.08,162.44 L930.02,162.44 L930.95,162.44 L931.89,162.44 L932.82,162.44 L933.76,162.44 L934.70,162.44 L935.63,162.44 L936.57,162.44 L937.50,162.44 L938.44,162.44 L939.37,162.45 L940.31,162.45 L941.25,162.45 L942.18,162.45 L943.12,162.45 L944.05,162.45 L944.99,162.45 L945.93,162.45 L946.86,162.45 L947.80,162.45 L948.73,162.45 L949.67,162.45 L950.61,162.45 L951.54,162.45 L952.48,162.45 L953.41,162.45 L954.35,162.45 L955.29,162.45 L956.22,162.45 L957.16,162.45 L958.09,162.45 L959.03,162.45 L959.97,162.45 L960.90,162.45 L961.84,162.45 L962.77,162.45 L963.71,162.45 L964.64,162.46 L965.58,162.46 L966.52,162.46 L967.45,162.46 L968.39,162.46 L969.32,162.46 L970.26,162.46 L971.20,162.46 L972.13,162.46 L973.07,162.46 L974.00,162.46 L974.94,162.46 L975.88,162.46 L976.81,162.46 L977.75,162.46 L978.68,162.46 L979.62,162.46 L980.56,162.46 L981.49,162.46 L982.43,162.46 L983.36,162.46 L984.30,162.46 L985.24,162.46 L986.17,162.46 L987.11,162.46 L988.04,162.46 L988.98,162.47 L989.91,162.47 L990.85,162.47 L991.79,162.47 L992.72,162.47 L993.66,162.47 L994.59,162.47 L995.53,162.47 L996.47,162.47 L997.40,162.47 L998.34,162.47 L999.27,162.47 L1000.21,162.47 L1001.15,162.47 L1002.08,162.47 L1003.02,162.47 L1003.95,162.47 L1004.89,162.47 L1005.83,162.47 L1006.76,162.47 L1007.70,162.47 L1008.63,162.47 L1009.57,162.47 L1010.51,162.47 L1011.44,162.47 L1012.38,162.47 L1013.31,162.48 L1014.25,162.48 L1015.18,162.48 L1016.12,162.48 L1017.06,162.48 L1017.99,162.48 L1018.93,162.48 L1019.86,162.48 L1020.80,162.48 L1021.74,162.48 L1022.67,162.48 L1023.61,162.48 L1024.54,162.48 L1025.48,162.48 L1026.42,162.48 L1027.35,162.48 L1028.29,162.48 L1029.22,162.48 L1030.16,162.48 L1031.10,162.48 L1032.03,162.48 L1032.97,162.48 L1033.90,162.48 L1034.84,162.49 L1035.78,162.49 L1036.71,162.49 L1037.65,162.49 L1038.58,162.49 L1039.52,162.49 L1040.45,162.49 L1041.39,162.49 L1042.33,162.49 L1043.26,162.49 L1044.20,162.49 L1045.13,162.49 L1046.07,162.49 L1047.01,162.49 L1047.94,162.49 L1048.88,162.49 L1049.81,162.49 L1050.75,162.49 L1051.69,162.49 L1052.62,162.49 L1053.56,162.49 L1054.49,162.50 L1055.43,162.50 L1056.37,162.50 L1057.30,162.50 L1058.24,162.50 L1059.17,162.50 L1060.11,162.50 L1061.05,162.50 L1061.98,162.50 L1062.92,162.50 L1063.85,162.50 L1064.79,162.50 L1065.72,162.50 L1066.66,162.50 L1067.60,162.50 L1068.53,162.50 L1069.47,162.51 L1070.40,162.51 L1071.34,162.51 L1072.28,162.51 L1073.21,162.51 L1074.15,162.51 L1075.08,162.51 L1076.02,162.51 L1076.96,162.51 L1077.89,162.51 L1078.83,162.51 L1079.76,162.51 L1080.70,162.51 L1081.64,162.51 L1082.57,162.52 L1083.51,162.52 L1084.44,162.52 L1085.38,162.52 L1086.32,162.52 L1087.25,162.52 L1088.19,162.52 L1089.12,162.52 L1090.06,162.52 L1091.00,162.52 L1091.93,162.53 L1092.87,162.53 L1093.80,162.53 L1094.74,162.53 L1095.67,162.53 L1096.61,162.53 L1097.55,162.53 L1098.48,162.53 L1099.42,162.54 L1100.35,162.54 L1101.29,162.54 L1102.23,162.54 L1103.16,162.54 L1104.10,162.54 L1105.03,162.54 L1105.97,162.55 L1106.91,162.55 L1107.84,162.55 L1108.78,162.55 L1109.71,162.55 L1110.65,162.55 L1111.59,162.56 L1112.52,162.56 L1113.46,162.56 L1114.39,162.56 L1115.33,162.56 L1116.27,162.57 L1117.20,162.57 L1118.14,162.57 L1119.07,162.57 L1120.01,162.58 L1120.94,162.58 L1121.88,162.58 L1122.82,162.58 L1123.75,162.59 L1124.69,162.59 L1125.62,162.59 L1126.56,162.59 L1127.50,162.60 L1128.43,162.60 L1129.37,162.60 L1130.30,162.61 L1131.24,162.61 L1132.18,162.62 L1133.11,162.62 L1134.05,162.62 L1134.98,162.63 L1135.92,162.63 L1136.86,162.64 L1137.79,162.64 L1138.73,162.64 L1139.66,162.65 L1140.60,162.65 L1141.53,162.66 L1142.47,162.66 L1143.41,162.67 L1144.34,162.67 L1145.28,162.68 L1146.21,162.69 L1147.15,162.69 L1148.09,162.70 L1149.02,162.71 L1149.96,162.71 L1150.89,162.72 L1151.83,162.73 L1152.77,162.73 L1153.70,162.74 L1154.64,162.75 L1155.57,162.76 L1156.51,162.77 L1157.45,162.77 L1158.38,162.78 L1159.32,162.79 L1160.25,162.80 L1161.19,162.81 L1162.12,162.82 L1163.06,162.83 L1164.00,162.85 L1164.93,162.86 L1165.87,162.87 L1166.80,162.88 L1167.74,162.89 L1168.68,162.91 L1169.61,162.92 L1170.55,162.93 L1171.48,162.95 L1172.42,162.96 L1173.35,162.98 L1174.29,163.00 L1175.23,163.01 L1176.16,163.03 L1177.10,163.05 L1178.03,163.07 L1178.97,163.09 L1179.91,163.11 L1180.84,163.13 L1181.78,163.15 L1182.71,163.17 L1183.65,163.19 L1184.58,163.22 L1185.52,163.24 L1186.46,163.27 L1187.39,163.29 L1188.33,163.32 L1189.26,163.35 L1190.20,163.38 L1191.13,163.40 L1192.07,163.44 L1193.00,163.47 L1193.94,163.50 L1194.87,163.53 L1195.81,163.57 L1196.75,163.61 L1197.68,163.64 L1198.62,163.68 L1199.55,163.72 L1200.49,163.77 L1201.42,163.81 L1202.36,163.85 L1203.29,163.90 L1204.23,163.95 L1205.16,164.00 L1206.10,164.05 L1207.03,164.10 L1207.97,164.16 L1208.90,164.21 L1209.83,164.27 L1210.77,164.33 L1211.70,164.39 L1212.64,164.46 L1213.57,164.52 L1214.50,164.59 L1215.44,164.66 L1216.37,164.74 L1217.30,164.81 L1218.24,164.89 L1219.17,164.97 L1220.10,165.06 L1221.04,165.14 L1221.97,165.23 L1222.90,165.32 L1223.83,165.42 L1224.76,165.52 L1225.69,165.62 L1226.63,165.72 L1227.56,165.83 L1228.49,165.94 L1229.42,166.06 L1230.35,166.17 L1231.28,166.30 L1232.20,166.42 L1233.13,166.55 L1234.06,166.69 L1234.99,166.82 L1235.91,166.96 L1236.84,167.11 L1237.77,167.26 L1238.69,167.42 L1239.61,167.58 L1240.54,167.74 L1241.46,167.91 L1242.38,168.08 L1243.30,168.26 L1244.22,168.45 L1245.14,168.64 L1246.06,168.83 L1246.98,169.03 L1247.90,169.24 L1248.81,169.45 L1249.73,169.67 L1250.64,169.89 L1251.55,170.12 L1252.46,170.35 L1253.37,170.59 L1254.28,170.84 L1255.18,171.10 L1256.09,171.36 L1256.99,171.62 L1257.89,171.89 L1258.79,172.17 L1259.69,172.46 L1260.59,172.75 L1261.48,173.05 L1262.37,173.36 L1263.26,173.67 L1264.15,173.99 L1265.04,174.32 L1265.92,174.65 L1266.80,174.99 L1267.68,175.34 L1268.56,175.70 L1269.43,176.06 L1270.30,176.43 L1271.17,176.80"/>
</g>
<g fill="none" stroke-width="5.0" stroke-linejoin="round" stroke-linecap="butt">
<path stroke="#FF0000" d="M805.60,444.80 L805.67,444.78 L806.84,444.38 L808.01,443.99 L809.19,443.59 L810.36,443.20 L811.53,442.81 L812.70,442.41 L813.87,442.02 L815.04,441.63 L816.22,441.23 L817.39,440.84 L818.56,440.44 L819.73,440.05 L820.90,439.66 L822.07,439.26 L823.25,438.87 L824.42,438.48 L825.59,438.08 L826.76,437.69 L827.93,437.30 L829.11,436.90 L830.28,436.51 L831.45,436.11 L832.62,435.72 L833.79,435.33 L834.96,434.93 L836.14,434.54 L837.31,434.15 L838.48,433.75 L839.65,433.36 L840.82,432.97 L841.99,432.57 L843.17,432.18 L844.34,431.79 L845.51,431.39 L846.68,431.00 L847.85,430.60 L849.02,430.21 L850.20,429.82 L851.37,429.42 L852.54,429.03 L853.71,428.64 L854.88,428.24 L856.06,427.85 L857.23,427.46 L858.40,427.06 L859.57,426.67 L860.74,426.28 L861.91,425.88 L863.09,425.49 L864.26,425.10 L865.43,424.70 L866.60,424.31 L867.77,423.92 L868.94,423.52 L870.12,423.13 L871.29,422.74 L872.46,422.34 L873.63,421.95 L874.80,421.56 L875.97,421.16 L877.15,420.77 L878.32,420.38 L879.49,419.98 L880.66,419.59 L881.83,419.20 L883.01,418.80 L884.18,418.41 L885.35,418.02 L886.52,417.62 L887.69,417.23 L888.86,416.84 L890.04,416.44 L891.21,416.05 L892.38,415.66 L893.55,415.26 L894.72,414.87 L895.89,414.48 L897.07,414.08 L898.24,413.69 L899.41,413.30 L900.58,412.90 L901.75,412.51 L902.92,412.12 L904.10,411.72 L905.27,411.33 L906.44,410.94 L907.61,410.54 L908.78,410.15 L909.96,409.76 L911.13,409.37 L912.30,408.97 L913.47,408.58 L914.64,408.19 L915.81,407.79 L916.99,407.40 L918.16,407.01 L919.33,406.61 L920.50,406.22 L921.67,405.83 L922.84,405.43 L924.02,405.04 L925.19,404.65 L926.36,404.26 L927.53,403.86 L928.70,403.47 L929.87,403.08 L931.05,402.68 L932.22,402.29 L933.39,401.90 L934.56,401.51 L935.73,401.11 L936.91,400.72 L938.08,400.33 L939.25,399.93 L940.42,399.54 L941.59,399.15 L942.76,398.75 L943.94,398.36 L945.11,397.97 L946.28,397.58 L947.45,397.18 L948.62,396.79 L949.79,396.40 L950.97,396.00 L952.14,395.61 L953.31,395.22 L954.48,394.83 L955.65,394.43 L956.82,394.04 L958.00,393.65 L959.17,393.26 L960.34,392.86 L961.51,392.47 L962.68,392.08 L963.86,391.68 L965.03,391.29 L966.20,390.90 L967.37,390.51 L968.54,390.11 L969.71,389.72 L970.89,389.33 L972.06,388.94 L973.23,388.54 L974.40,388.15 L975.57,387.76 L976.74,387.36 L977.92,386.97 L979.09,386.58 L980.26,386.19 L981.43,385.79 L982.60,385.40 L983.77,385.01 L984.95,384.62 L986.12,384.22 L987.29,383.83 L988.46,383.44 L989.63,383.05 L990.81,382.65 L991.98,382.26 L993.15,381.87 L994.32,381.48 L995.49,381.08 L996.66,380.69 L997.84,380.30 L999.01,379.91 L1000.18,379.51 L1001.35,379.12 L1002.52,378.73 L1003.69,378.34 L1004.87,377.94 L1006.04,377.55 L1007.21,377.16 L1008.38,376.77 L1009.55,376.37 L1010.72,375.98 L1011.90,375.59 L1013.07,375.20 L1014.24,374.80 L1015.41,374.41 L1016.58,374.02 L1017.76,373.63 L1018.93,373.23 L1020.10,372.84 L1021.27,372.45 L1022.44,372.06 L1023.61,371.67 L1024.79,371.27 L1025.96,370.88 L1027.13,370.49 L1028.30,370.10 L1029.47,369.70 L1030.64,369.31 L1031.82,368.92 L1032.99,368.53 L1034.16,368.14 L1035.33,367.74 L1036.50,367.35 L1037.67,366.96 L1038.85,366.57 L1040.02,366.17 L1041.19,365.78 L1042.36,365.39 L1043.53,365.00 L1044.71,364.61 L1045.88,364.21 L1047.05,363.82 L1048.22,363.43 L1049.39,363.04 L1050.56,362.65 L1051.74,362.25 L1052.91,361.86 L1054.08,361.47 L1055.25,361.08 L1056.42,360.69 L1057.59,360.30 L1058.77,359.90 L1059.94,359.51 L1061.11,359.12 L1062.28,358.73 L1063.45,358.34 L1064.62,357.95 L1065.80,357.55 L1066.97,357.16 L1068.14,356.77 L1069.31,356.38 L1070.48,355.99 L1071.65,355.60 L1072.83,355.21 L1074.00,354.81 L1075.17,354.42 L1076.34,354.03 L1077.51,353.64 L1078.69,353.25 L1079.86,352.86 L1081.03,352.47 L1082.20,352.08 L1083.37,351.69 L1084.54,351.29 L1085.72,350.90 L1086.89,350.51 L1088.06,350.12 L1089.23,349.73 L1090.40,349.34 L1091.57,348.95 L1092.75,348.56 L1093.92,348.17 L1095.09,347.78 L1096.26,347.39 L1097.43,347.00 L1098.60,346.61 L1099.78,346.22 L1100.95,345.83 L1102.12,345.44 L1103.29,345.05 L1104.46,344.67 L1105.64,344.28 L1106.81,343.89 L1107.98,343.50 L1109.15,343.11 L1110.32,342.72 L1111.49,342.34 L1112.67,341.95 L1113.84,341.56 L1115.01,341.17 L1116.18,340.79 L1117.35,340.40 L1118.52,340.01 L1119.70,339.63 L1120.87,339.24 L1122.04,338.86 L1123.21,338.47 L1124.38,338.09 L1125.55,337.70 L1126.73,337.32 L1127.90,336.93 L1129.07,336.55 L1130.24,336.17 L1131.41,335.79 L1132.58,335.40 L1133.76,335.02 L1134.93,334.64 L1136.10,334.26 L1137.27,333.88 L1138.44,333.50 L1139.61,333.13 L1140.79,332.75 L1141.96,332.37 L1143.13,332.00 L1144.30,331.62 L1145.47,331.25 L1146.64,330.88 L1147.82,330.50 L1148.99,330.13 L1150.16,329.76 L1151.33,329.39 L1152.50,329.03 L1153.67,328.66 L1154.84,328.30 L1156.01,327.93 L1157.19,327.57 L1158.36,327.21 L1159.53,326.85 L1160.70,326.50 L1161.87,326.14 L1163.04,325.79 L1164.21,325.44 L1165.38,325.09 L1166.55,324.74 L1167.72,324.40 L1168.89,324.05 L1170.07,323.71 L1171.24,323.38 L1172.41,323.04 L1173.58,322.71 L1174.75,322.39 L1175.91,322.06 L1177.08,321.74 L1178.25,321.42 L1179.42,321.11 L1180.59,320.80 L1181.76,320.50 L1182.93,320.20 L1184.09,319.90 L1185.26,319.61 L1186.43,319.32 L1187.59,319.04 L1188.76,318.77 L1189.92,318.50 L1191.09,318.24 L1192.25,317.98 L1193.42,317.73 L1194.58,317.49 L1195.74,317.25 L1196.90,317.02 L1198.06,316.80 L1199.22,316.59 L1200.38,316.39 L1201.53,316.19 L1202.69,316.01 L1203.84,315.84 L1204.99,315.67 L1206.14,315.52 L1207.29,315.38 L1208.43,315.24 L1209.57,315.13 L1210.71,315.02 L1211.85,314.92 L1212.99,314.84 L1214.12,314.77 L1215.25,314.72 L1216.38,314.68 L1217.50,314.66 L1218.62,314.65 L1219.73,314.65 L1220.84,314.67 L1221.95,314.71 L1223.05,314.76 L1224.15,314.84 L1225.24,314.92 L1226.32,315.03 L1227.40,315.15 L1228.48,315.29 L1229.55,315.45 L1230.61,315.63 L1231.66,315.83 L1232.71,316.04 L1233.76,316.28 L1234.79,316.53 L1235.82,316.80 L1236.84,317.09 L1237.85,317.40 L1238.86,317.72 L1239.85,318.07 L1240.84,318.43 L1241.82,318.82 L1242.80,319.22 L1243.76,319.64 L1244.72,320.07 L1245.66,320.53 L1246.60,321.00 L1247.53,321.49 L1248.46,321.99 L1249.37,322.52 L1250.28,323.06 L1251.17,323.61 L1252.06,324.18 L1252.95,324.77 L1253.82,325.37 L1254.68,325.99 L1255.54,326.62 L1256.39,327.26 L1257.23,327.92 L1258.06,328.60 L1258.89,329.28 L1259.71,329.98 L1260.52,330.70 L1261.32,331.42 L1262.12,332.16 L1262.91,332.91 L1263.69,333.68 L1264.47,334.45 L1265.23,335.23 L1266.00,336.03 L1266.75,336.84 L1267.50,337.66 L1268.24,338.48 L1268.98,339.32 L1269.71,340.17 L1270.44,341.03 L1271.16,341.89 L1271.87,342.77 L1272.58,343.66 L1273.28,344.55 L1273.98,345.45 L1274.67,346.37 L1275.36,347.29 L1276.04,348.21 L1276.72,349.15 L1277.39,350.09 L1278.06,351.05 L1278.72,352.00 L1279.38,352.97 L1280.03,353.95 L1280.68,354.93 L1281.33,355.92 L1281.97,356.91 L1282.60,357.91 L1283.24,358.92 L1283.87,359.94 L1284.49,360.96 L1285.11,361.99 L1285.73,363.02 L1286.35,364.06 L1286.96,365.11 L1287.56,366.16 L1288.17,367.22 L1288.77,368.28 L1289.37,369.35 L1289.96,370.42 L1290.55,371.50 L1291.14,372.59 L1291.72,373.68 L1292.30,374.78 L1292.88,375.88 L1293.46,376.99 L1294.03,378.10 L1294.60,379.21 L1295.17,380.34 L1295.74,381.46 L1296.30,382.59 L1296.86,383.73 L1297.42,384.87 L1297.97,386.01 L1298.52,387.16 L1299.07,388.32 L1299.62,389.48 L1300.17,390.64 L1300.71,391.81 L1301.25,392.98 L1301.79,394.15 L1302.32,395.33 L1302.86,396.52 L1303.39,397.71 L1303.92,398.90 L1304.45,400.10 L1304.98,401.30 L1305.50,402.50 L1306.02,403.71 L1306.54,404.92 L1307.06,406.14 L1307.58,407.36 L1308.09,408.58 L1308.61,409.81 L1309.12,411.04 L1309.63,412.28 L1310.14,413.51 L1310.64,414.76 L1311.15,416.00 L1311.65,417.25 L1312.15,418.50 L1312.65,419.76 L1313.15,421.02 L1313.65,422.28 L1314.14,423.55 L1314.64,424.82 L1315.13,426.09 L1315.62,427.37 L1316.11,428.65 L1316.60,429.93 L1317.09,431.22 L1317.57,432.51 L1318.06,433.80 L1318.54,435.10 L1319.02,436.40 L1319.50,437.70 L1319.98,439.01 L1320.46,440.32 L1320.94,441.63 L1321.41,442.95"/>
<path stroke="#0072BD" d="M805.60,444.80 L805.60,444.80 L806.68,444.58 L807.76,444.36 L808.85,444.15 L809.93,443.93 L811.01,443.71 L812.09,443.49 L813.17,443.28 L814.25,443.06 L815.33,442.84 L816.42,442.62 L817.50,442.40 L818.58,442.19 L819.66,441.97 L820.74,441.75 L821.82,441.53 L822.90,441.32 L823.98,441.10 L825.07,440.88 L826.15,440.66 L827.23,440.45 L828.31,440.23 L829.39,440.01 L830.47,439.79 L831.55,439.58 L832.64,439.36 L833.72,439.14 L834.80,438.92 L835.88,438.70 L836.96,438.49 L838.04,438.27 L839.12,438.05 L840.21,437.83 L841.29,437.62 L842.37,437.40 L843.45,437.18 L844.53,436.96 L845.61,436.75 L846.69,436.53 L847.77,436.31 L848.86,436.09 L849.94,435.88 L851.02,435.66 L852.10,435.44 L853.18,435.22 L854.26,435.01 L855.34,434.79 L856.43,434.57 L857.51,434.35 L858.59,434.14 L859.67,433.92 L860.75,433.70 L861.83,433.48 L862.91,433.27 L863.99,433.05 L865.08,432.83 L866.16,432.61 L867.24,432.39 L868.32,432.18 L869.40,431.96 L870.48,431.74 L871.56,431.52 L872.65,431.31 L873.73,431.09 L874.81,430.87 L875.89,430.65 L876.97,430.44 L878.05,430.22 L879.13,430.00 L880.21,429.78 L881.30,429.57 L882.38,429.35 L883.46,429.13 L884.54,428.91 L885.62,428.70 L886.70,428.48 L887.78,428.26 L888.87,428.04 L889.95,427.83 L891.03,427.61 L892.11,427.39 L893.19,427.17 L894.27,426.96 L895.35,426.74 L896.43,426.52 L897.52,426.30 L898.60,426.09 L899.68,425.87 L900.76,425.65 L901.84,425.43 L902.92,425.22 L904.00,425.00 L905.09,424.78 L906.17,424.56 L907.25,424.35 L908.33,424.13 L909.41,423.91 L910.49,423.70 L911.57,423.48 L912.66,423.26 L913.74,423.04 L914.82,422.83 L915.90,422.61 L916.98,422.39 L918.06,422.17 L919.14,421.96 L920.22,421.74 L921.31,421.52 L922.39,421.30 L923.47,421.09 L924.55,420.87 L925.63,420.65 L926.71,420.43 L927.79,420.22 L928.88,420.00 L929.96,419.78 L931.04,419.56 L932.12,419.35 L933.20,419.13 L934.28,418.91 L935.36,418.69 L936.44,418.48 L937.53,418.26 L938.61,418.04 L939.69,417.83 L940.77,417.61 L941.85,417.39 L942.93,417.17 L944.01,416.96 L945.10,416.74 L946.18,416.52 L947.26,416.30 L948.34,416.09 L949.42,415.87 L950.50,415.65 L951.58,415.43 L952.66,415.22 L953.75,415.00 L954.83,414.78 L955.91,414.57 L956.99,414.35 L958.07,414.13 L959.15,413.91 L960.23,413.70 L961.32,413.48 L962.40,413.26 L963.48,413.04 L964.56,412.83 L965.64,412.61 L966.72,412.39 L967.80,412.17 L968.88,411.96 L969.97,411.74 L971.05,411.52 L972.13,411.31 L973.21,411.09 L974.29,410.87 L975.37,410.65 L976.45,410.44 L977.54,410.22 L978.62,410.00 L979.70,409.78 L980.78,409.57 L981.86,409.35 L982.94,409.13 L984.02,408.92 L985.10,408.70 L986.19,408.48 L987.27,408.26 L988.35,408.05 L989.43,407.83 L990.51,407.61 L991.59,407.40 L992.67,407.18 L993.76,406.96 L994.84,406.74 L995.92,406.53 L997.00,406.31 L998.08,406.09 L999.16,405.87 L1000.24,405.66 L1001.33,405.44 L1002.41,405.22 L1003.49,405.01 L1004.57,404.79 L1005.65,404.57 L1006.73,404.35 L1007.81,404.14 L1008.89,403.92 L1009.98,403.70 L1011.06,403.49 L1012.14,403.27 L1013.22,403.05 L1014.30,402.83 L1015.38,402.62 L1016.46,402.40 L1017.55,402.18 L1018.63,401.97 L1019.71,401.75 L1020.79,401.53 L1021.87,401.31 L1022.95,401.10 L1024.03,400.88 L1025.11,400.66 L1026.20,400.45 L1027.28,400.23 L1028.36,400.01 L1029.44,399.79 L1030.52,399.58 L1031.60,399.36 L1032.68,399.14 L1033.77,398.93 L1034.85,398.71 L1035.93,398.49 L1037.01,398.28 L1038.09,398.06 L1039.17,397.84 L1040.25,397.62 L1041.33,397.41 L1042.42,397.19 L1043.50,396.97 L1044.58,396.76 L1045.66,396.54 L1046.74,396.32 L1047.82,396.11 L1048.90,395.89 L1049.99,395.67 L1051.07,395.45 L1052.15,395.24 L1053.23,395.02 L1054.31,394.80 L1055.39,394.59 L1056.47,394.37 L1057.55,394.15 L1058.64,393.94 L1059.72,393.72 L1060.80,393.50 L1061.88,393.29 L1062.96,393.07 L1064.04,392.85 L1065.12,392.64 L1066.21,392.42 L1067.29,392.20 L1068.37,391.99 L1069.45,391.77 L1070.53,391.55 L1071.61,391.34 L1072.69,391.12 L1073.78,390.90 L1074.86,390.69 L1075.94,390.47 L1077.02,390.25 L1078.10,390.04 L1079.18,389.82 L1080.26,389.60 L1081.34,389.39 L1082.43,389.17 L1083.51,388.95 L1084.59,388.74 L1085.67,388.52 L1086.75,388.30 L1087.83,388.09 L1088.91,387.87 L1090.00,387.66 L1091.08,387.44 L1092.16,387.22 L1093.24,387.01 L1094.32,386.79 L1095.40,386.58 L1096.48,386.36 L1097.56,386.14 L1098.65,385.93 L1099.73,385.71 L1100.81,385.50 L1101.89,385.28 L1102.97,385.07 L1104.05,384.85 L1105.13,384.63 L1106.22,384.42 L1107.30,384.20 L1108.38,383.99 L1109.46,383.77 L1110.54,383.56 L1111.62,383.34 L1112.70,383.13 L1113.78,382.91 L1114.87,382.70 L1115.95,382.49 L1117.03,382.27 L1118.11,382.06 L1119.19,381.84 L1120.27,381.63 L1121.35,381.41 L1122.44,381.20 L1123.52,380.99 L1124.60,380.77 L1125.68,380.56 L1126.76,380.35 L1127.84,380.14 L1128.92,379.92 L1130.00,379.71 L1131.09,379.50 L1132.17,379.29 L1133.25,379.07 L1134.33,378.86 L1135.41,378.65 L1136.49,378.44 L1137.57,378.23 L1138.66,378.02 L1139.74,377.81 L1140.82,377.60 L1141.90,377.39 L1142.98,377.18 L1144.06,376.97 L1145.14,376.77 L1146.22,376.56 L1147.31,376.35 L1148.39,376.14 L1149.47,375.94 L1150.55,375.73 L1151.63,375.53 L1152.71,375.32 L1153.79,375.12 L1154.87,374.91 L1155.96,374.71 L1157.04,374.51 L1158.12,374.31 L1159.20,374.10 L1160.28,373.90 L1161.36,373.70 L1162.44,373.51 L1163.52,373.31 L1164.60,373.11 L1165.69,372.92 L1166.77,372.72 L1167.85,372.53 L1168.93,372.33 L1170.01,372.14 L1171.09,371.95 L1172.17,371.76 L1173.25,371.57 L1174.33,371.39 L1175.41,371.20 L1176.50,371.02 L1177.58,370.84 L1178.66,370.65 L1179.74,370.48 L1180.82,370.30 L1181.90,370.12 L1182.98,369.95 L1184.06,369.78 L1185.14,369.61 L1186.22,369.44 L1187.30,369.28 L1188.38,369.11 L1189.46,368.95 L1190.54,368.80 L1191.62,368.64 L1192.70,368.49 L1193.78,368.34 L1194.86,368.20 L1195.93,368.05 L1197.01,367.92 L1198.09,367.78 L1199.17,367.65 L1200.25,367.52 L1201.32,367.40 L1202.40,367.28 L1203.48,367.16 L1204.55,367.05 L1205.63,366.95 L1206.71,366.85 L1207.78,366.75 L1208.85,366.66 L1209.93,366.58 L1211.00,366.50 L1212.07,366.42 L1213.15,366.36 L1214.22,366.30 L1215.29,366.24 L1216.36,366.20 L1217.42,366.16 L1218.49,366.13 L1219.56,366.11 L1220.62,366.09 L1221.68,366.08 L1222.75,366.09 L1223.81,366.10 L1224.87,366.12 L1225.92,366.15 L1226.98,366.19 L1228.03,366.24 L1229.08,366.30 L1230.13,366.37 L1231.18,366.46 L1232.22,366.55 L1233.26,366.66 L1234.30,366.78 L1235.34,366.91 L1236.37,367.05 L1237.40,367.21 L1238.42,367.38 L1239.44,367.56 L1240.46,367.76 L1241.48,367.97 L1242.49,368.20 L1243.49,368.44 L1244.49,368.70 L1245.49,368.97 L1246.48,369.25 L1247.46,369.55 L1248.44,369.87 L1249.42,370.20 L1250.39,370.55 L1251.35,370.91 L1252.31,371.29 L1253.26,371.68 L1254.20,372.09 L1255.14,372.51 L1256.07,372.95 L1257.00,373.41 L1257.91,373.88 L1258.83,374.37 L1259.73,374.87 L1260.63,375.39 L1261.52,375.92 L1262.40,376.47 L1263.27,377.03 L1264.14,377.61 L1265.00,378.20 L1265.86,378.81 L1266.70,379.42 L1267.54,380.06 L1268.37,380.70 L1269.20,381.36 L1270.02,382.04 L1270.83,382.72 L1271.63,383.42 L1272.42,384.13 L1273.21,384.86 L1274.00,385.59 L1274.77,386.34 L1275.54,387.10 L1276.30,387.86 L1277.05,388.65 L1277.80,389.44 L1278.54,390.24 L1279.28,391.05 L1280.01,391.87 L1280.73,392.70 L1281.44,393.55 L1282.15,394.40 L1282.86,395.26 L1283.56,396.13 L1284.25,397.01 L1284.93,397.89 L1285.61,398.79 L1286.29,399.69 L1286.96,400.61 L1287.62,401.53 L1288.28,402.45 L1288.94,403.39 L1289.59,404.33 L1290.23,405.28 L1290.87,406.24 L1291.51,407.21 L1292.13,408.18 L1292.76,409.16 L1293.38,410.14 L1294.00,411.14 L1294.61,412.13 L1295.22,413.14 L1295.82,414.15 L1296.42,415.17 L1297.01,416.19 L1297.61,417.22 L1298.19,418.25 L1298.78,419.29 L1299.36,420.34 L1299.93,421.39 L1300.50,422.45 L1301.07,423.51 L1301.64,424.57 L1302.20,425.65 L1302.76,426.72 L1303.31,427.80 L1303.87,428.89 L1304.42,429.98 L1304.96,431.08 L1305.50,432.18 L1306.04,433.29 L1306.58,434.40 L1307.11,435.51 L1307.65,436.63 L1308.17,437.75 L1308.70,438.88 L1309.22,440.01 L1309.74,441.15 L1310.26,442.29 L1310.77,443.43"/>
<path stroke="#77AC30" d="M805.60,444.80 L805.64,444.80 L806.57,444.77 L807.51,444.74 L808.44,444.71 L809.38,444.67 L810.32,444.64 L811.25,444.61 L812.19,444.58 L813.12,444.55 L814.06,444.52 L814.99,444.49 L815.93,444.46 L816.87,444.43 L817.80,444.40 L818.74,444.37 L819.67,444.33 L820.61,444.30 L821.55,444.27 L822.48,444.24 L823.42,444.21 L824.35,444.18 L825.29,444.15 L826.22,444.12 L827.16,444.09 L828.10,444.06 L829.03,444.03 L829.97,443.99 L830.90,443.96 L831.84,443.93 L832.77,443.90 L833.71,443.87 L834.65,443.84 L835.58,443.81 L836.52,443.78 L837.45,443.75 L838.39,443.72 L839.32,443.69 L840.26,443.65 L841.20,443.62 L842.13,443.59 L843.07,443.56 L844.00,443.53 L844.94,443.50 L845.87,443.47 L846.81,443.44 L847.75,443.41 L848.68,443.38 L849.62,443.35 L850.55,443.32 L851.49,443.28 L852.43,443.25 L853.36,443.22 L854.30,443.19 L855.23,443.16 L856.17,443.13 L857.10,443.10 L858.04,443.07 L858.98,443.04 L859.91,443.01 L860.85,442.98 L861.78,442.94 L862.72,442.91 L863.65,442.88 L864.59,442.85 L865.53,442.82 L866.46,442.79 L867.40,442.76 L868.33,442.73 L869.27,442.70 L870.20,442.67 L871.14,442.64 L872.08,442.61 L873.01,442.57 L873.95,442.54 L874.88,442.51 L875.82,442.48 L876.76,442.45 L877.69,442.42 L878.63,442.39 L879.56,442.36 L880.50,442.33 L881.43,442.30 L882.37,442.27 L883.31,442.24 L884.24,442.20 L885.18,442.17 L886.11,442.14 L887.05,442.11 L887.98,442.08 L888.92,442.05 L889.86,442.02 L890.79,441.99 L891.73,441.96 L892.66,441.93 L893.60,441.90 L894.53,441.87 L895.47,441.83 L896.41,441.80 L897.34,441.77 L898.28,441.74 L899.21,441.71 L900.15,441.68 L901.08,441.65 L902.02,441.62 L902.96,441.59 L903.89,441.56 L904.83,441.53 L905.76,441.50 L906.70,441.47 L907.64,441.43 L908.57,441.40 L909.51,441.37 L910.44,441.34 L911.38,441.31 L912.31,441.28 L913.25,441.25 L914.19,441.22 L915.12,441.19 L916.06,441.16 L916.99,441.13 L917.93,441.10 L918.86,441.07 L919.80,441.03 L920.74,441.00 L921.67,440.97 L922.61,440.94 L923.54,440.91 L924.48,440.88 L925.41,440.85 L926.35,440.82 L927.29,440.79 L928.22,440.76 L929.16,440.73 L930.09,440.70 L931.03,440.67 L931.97,440.63 L932.90,440.60 L933.84,440.57 L934.77,440.54 L935.71,440.51 L936.64,440.48 L937.58,440.45 L938.52,440.42 L939.45,440.39 L940.39,440.36 L941.32,440.33 L942.26,440.30 L943.19,440.27 L944.13,440.24 L945.07,440.20 L946.00,440.17 L946.94,440.14 L947.87,440.11 L948.81,440.08 L949.74,440.05 L950.68,440.02 L951.62,439.99 L952.55,439.96 L953.49,439.93 L954.42,439.90 L955.36,439.87 L956.29,439.84 L957.23,439.81 L958.17,439.77 L959.10,439.74 L960.04,439.71 L960.97,439.68 L961.91,439.65 L962.85,439.62 L963.78,439.59 L964.72,439.56 L965.65,439.53 L966.59,439.50 L967.52,439.47 L968.46,439.44 L969.40,439.41 L970.33,439.38 L971.27,439.34 L972.20,439.31 L973.14,439.28 L974.07,439.25 L975.01,439.22 L975.95,439.19 L976.88,439.16 L977.82,439.13 L978.75,439.10 L979.69,439.07 L980.62,439.04 L981.56,439.01 L982.50,438.98 L983.43,438.95 L984.37,438.92 L985.30,438.88 L986.24,438.85 L987.18,438.82 L988.11,438.79 L989.05,438.76 L989.98,438.73 L990.92,438.70 L991.85,438.67 L992.79,438.64 L993.73,438.61 L994.66,438.58 L995.60,438.55 L996.53,438.52 L997.47,438.49 L998.40,438.46 L999.34,438.43 L1000.28,438.39 L1001.21,438.36 L1002.15,438.33 L1003.08,438.30 L1004.02,438.27 L1004.95,438.24 L1005.89,438.21 L1006.83,438.18 L1007.76,438.15 L1008.70,438.12 L1009.63,438.09 L1010.57,438.06 L1011.51,438.03 L1012.44,438.00 L1013.38,437.97 L1014.31,437.94 L1015.25,437.91 L1016.18,437.87 L1017.12,437.84 L1018.06,437.81 L1018.99,437.78 L1019.93,437.75 L1020.86,437.72 L1021.80,437.69 L1022.73,437.66 L1023.67,437.63 L1024.61,437.60 L1025.54,437.57 L1026.48,437.54 L1027.41,437.51 L1028.35,437.48 L1029.28,437.45 L1030.22,437.42 L1031.16,437.39 L1032.09,437.35 L1033.03,437.32 L1033.96,437.29 L1034.90,437.26 L1035.83,437.23 L1036.77,437.20 L1037.71,437.17 L1038.64,437.14 L1039.58,437.11 L1040.51,437.08 L1041.45,437.05 L1042.39,437.02 L1043.32,436.99 L1044.26,436.96 L1045.19,436.93 L1046.13,436.90 L1047.06,436.87 L1048.00,436.84 L1048.94,436.81 L1049.87,436.78 L1050.81,436.74 L1051.74,436.71 L1052.68,436.68 L1053.61,436.65 L1054.55,436.62 L1055.49,436.59 L1056.42,436.56 L1057.36,436.53 L1058.29,436.50 L1059.23,436.47 L1060.16,436.44 L1061.10,436.41 L1062.04,436.38 L1062.97,436.35 L1063.91,436.32 L1064.84,436.29 L1065.78,436.26 L1066.72,436.23 L1067.65,436.20 L1068.59,436.17 L1069.52,436.14 L1070.46,436.11 L1071.39,436.08 L1072.33,436.05 L1073.27,436.02 L1074.20,435.99 L1075.14,435.96 L1076.07,435.92 L1077.01,435.89 L1077.94,435.86 L1078.88,435.83 L1079.82,435.80 L1080.75,435.77 L1081.69,435.74 L1082.62,435.71 L1083.56,435.68 L1084.49,435.65 L1085.43,435.62 L1086.37,435.59 L1087.30,435.56 L1088.24,435.53 L1089.17,435.50 L1090.11,435.47 L1091.04,435.44 L1091.98,435.41 L1092.92,435.38 L1093.85,435.35 L1094.79,435.32 L1095.72,435.29 L1096.66,435.26 L1097.60,435.23 L1098.53,435.20 L1099.47,435.17 L1100.40,435.14 L1101.34,435.11 L1102.27,435.08 L1103.21,435.05 L1104.15,435.03 L1105.08,435.00 L1106.02,434.97 L1106.95,434.94 L1107.89,434.91 L1108.82,434.88 L1109.76,434.85 L1110.70,434.82 L1111.63,434.79 L1112.57,434.76 L1113.50,434.73 L1114.44,434.70 L1115.37,434.67 L1116.31,434.64 L1117.25,434.61 L1118.18,434.59 L1119.12,434.56 L1120.05,434.53 L1120.99,434.50 L1121.93,434.47 L1122.86,434.44 L1123.80,434.41 L1124.73,434.38 L1125.67,434.36 L1126.60,434.33 L1127.54,434.30 L1128.48,434.27 L1129.41,434.24 L1130.35,434.21 L1131.28,434.19 L1132.22,434.16 L1133.15,434.13 L1134.09,434.10 L1135.03,434.08 L1135.96,434.05 L1136.90,434.02 L1137.83,433.99 L1138.77,433.97 L1139.70,433.94 L1140.64,433.91 L1141.58,433.89 L1142.51,433.86 L1143.45,433.83 L1144.38,433.81 L1145.32,433.78 L1146.25,433.75 L1147.19,433.73 L1148.13,433.70 L1149.06,433.68 L1150.00,433.65 L1150.93,433.63 L1151.87,433.60 L1152.80,433.58 L1153.74,433.55 L1154.68,433.53 L1155.61,433.51 L1156.55,433.48 L1157.48,433.46 L1158.42,433.44 L1159.36,433.41 L1160.29,433.39 L1161.23,433.37 L1162.16,433.35 L1163.10,433.32 L1164.03,433.30 L1164.97,433.28 L1165.91,433.26 L1166.84,433.24 L1167.78,433.22 L1168.71,433.20 L1169.65,433.18 L1170.58,433.17 L1171.52,433.15 L1172.45,433.13 L1173.39,433.11 L1174.33,433.10 L1175.26,433.08 L1176.20,433.06 L1177.13,433.05 L1178.07,433.04 L1179.00,433.02 L1179.94,433.01 L1180.88,433.00 L1181.81,432.98 L1182.75,432.97 L1183.68,432.96 L1184.62,432.95 L1185.55,432.94 L1186.49,432.94 L1187.42,432.93 L1188.36,432.92 L1189.29,432.92 L1190.23,432.91 L1191.17,432.91 L1192.10,432.91 L1193.04,432.90 L1193.97,432.90 L1194.91,432.90 L1195.84,432.91 L1196.78,432.91 L1197.71,432.91 L1198.65,432.92 L1199.58,432.93 L1200.52,432.93 L1201.45,432.94 L1202.39,432.95 L1203.32,432.97 L1204.26,432.98 L1205.19,433.00 L1206.13,433.01 L1207.06,433.03 L1207.99,433.06 L1208.93,433.08 L1209.86,433.10 L1210.80,433.13 L1211.73,433.16 L1212.67,433.19 L1213.60,433.22 L1214.53,433.26 L1215.47,433.30 L1216.40,433.34 L1217.33,433.38 L1218.27,433.42 L1219.20,433.47 L1220.13,433.52 L1221.06,433.58 L1222.00,433.63 L1222.93,433.69 L1223.86,433.76 L1224.79,433.82 L1225.72,433.89 L1226.65,433.96 L1227.58,434.04 L1228.51,434.12 L1229.44,434.20 L1230.37,434.29 L1231.30,434.38 L1232.23,434.48 L1233.16,434.58 L1234.08,434.68 L1235.01,434.79 L1235.94,434.90 L1236.86,435.02 L1237.79,435.14 L1238.71,435.27 L1239.64,435.40 L1240.56,435.54 L1241.48,435.68 L1242.41,435.83 L1243.33,435.99 L1244.25,436.15 L1245.17,436.31 L1246.08,436.48 L1247.00,436.66 L1247.92,436.84 L1248.83,437.03 L1249.75,437.23 L1250.66,437.43 L1251.57,437.64 L1252.48,437.86 L1253.39,438.08 L1254.30,438.32 L1255.20,438.55 L1256.11,438.80 L1257.01,439.05 L1257.91,439.31 L1258.81,439.58 L1259.71,439.86 L1260.61,440.14 L1261.50,440.43 L1262.39,440.73 L1263.28,441.04 L1264.17,441.35 L1265.06,441.68 L1265.94,442.01 L1266.82,442.35 L1267.70,442.70 L1268.58,443.06 L1269.45,443.43 L1270.32,443.80 L1271.19,444.19"/>
</g>
<g font-family="Liberation Sans" font-size="18.8" fill="#111">
<text x="70.50" y="202.10" text-anchor="middle">0</text>
<text x="141.86" y="202.10" text-anchor="middle">10</text>
<text x="213.22" y="202.10" text-anchor="middle">20</text>
<text x="284.59" y="202.10" text-anchor="middle">30</text>
<text x="355.95" y="202.10" text-anchor="middle">40</text>
<text x="427.31" y="202.10" text-anchor="middle">50</text>
<text x="498.68" y="202.10" text-anchor="middle">60</text>
<text x="570.04" y="202.10" text-anchor="middle">70</text>
<text x="641.40" y="202.10" text-anchor="middle">80</text>
<text x="64.80" y="184.20" text-anchor="end">0</text>
<text x="64.80" y="99.85" text-anchor="end">20</text>
<text x="64.80" y="15.50" text-anchor="end">40</text>
</g>
<text x="355.95" y="228.40" text-anchor="middle" font-family="Liberation Sans" font-size="21.0" fill="#111">Voltage (V)</text>
<text transform="translate(36.1,92.65) rotate(-90)" text-anchor="middle" font-family="Liberation Sans" font-size="20.5" fill="#111">Current (A)</text>
<g font-family="Liberation Sans" font-size="18.8" fill="#111">
<text x="70.50" y="469.70" text-anchor="middle">0</text>
<text x="141.86" y="469.70" text-anchor="middle">10</text>
<text x="213.22" y="469.70" text-anchor="middle">20</text>
<text x="284.59" y="469.70" text-anchor="middle">30</text>
<text x="355.95" y="469.70" text-anchor="middle">40</text>
<text x="427.31" y="469.70" text-anchor="middle">50</text>
<text x="498.68" y="469.70" text-anchor="middle">60</text>
<text x="570.04" y="469.70" text-anchor="middle">70</text>
<text x="641.40" y="469.70" text-anchor="middle">80</text>
<text x="64.80" y="451.80" text-anchor="end">0</text>
<text x="64.80" y="367.70" text-anchor="end">1000</text>
<text x="64.80" y="283.60" text-anchor="end">2000</text>
</g>
<text x="355.95" y="496.00" text-anchor="middle" font-family="Liberation Sans" font-size="21.0" fill="#111">Voltage (V)</text>
<text transform="translate(14.8,360.50) rotate(-90)" text-anchor="middle" font-family="Liberation Sans" font-size="20.5" fill="#111">Power (W)</text>
<g font-family="Liberation Sans" font-size="18.8" fill="#111">
<text x="805.50" y="202.50" text-anchor="middle">0</text>
<text x="876.80" y="202.50" text-anchor="middle">10</text>
<text x="948.10" y="202.50" text-anchor="middle">20</text>
<text x="1019.40" y="202.50" text-anchor="middle">30</text>
<text x="1090.70" y="202.50" text-anchor="middle">40</text>
<text x="1162.00" y="202.50" text-anchor="middle">50</text>
<text x="1233.30" y="202.50" text-anchor="middle">60</text>
<text x="1304.60" y="202.50" text-anchor="middle">70</text>
<text x="1375.90" y="202.50" text-anchor="middle">80</text>
<text x="799.80" y="184.60" text-anchor="end">0</text>
<text x="799.80" y="135.88" text-anchor="end">10</text>
<text x="799.80" y="87.15" text-anchor="end">20</text>
<text x="799.80" y="38.43" text-anchor="end">30</text>
</g>
<text x="1090.70" y="228.80" text-anchor="middle" font-family="Liberation Sans" font-size="21.0" fill="#111">Voltage (V)</text>
<text transform="translate(771.1,93.35) rotate(-90)" text-anchor="middle" font-family="Liberation Sans" font-size="20.5" fill="#111">Current (A)</text>
<g font-family="Liberation Sans" font-size="18.8" fill="#111">
<text x="805.60" y="469.90" text-anchor="middle">0</text>
<text x="876.89" y="469.90" text-anchor="middle">10</text>
<text x="948.18" y="469.90" text-anchor="middle">20</text>
<text x="1019.46" y="469.90" text-anchor="middle">30</text>
<text x="1090.75" y="469.90" text-anchor="middle">40</text>
<text x="1162.04" y="469.90" text-anchor="middle">50</text>
<text x="1233.33" y="469.90" text-anchor="middle">60</text>
<text x="1304.61" y="469.90" text-anchor="middle">70</text>
<text x="1375.90" y="469.90" text-anchor="middle">80</text>
<text x="799.90" y="452.00" text-anchor="end">0</text>
<text x="799.90" y="375.45" text-anchor="end">1000</text>
<text x="799.90" y="298.91" text-anchor="end">2000</text>
</g>
<text x="1090.75" y="496.20" text-anchor="middle" font-family="Liberation Sans" font-size="21.0" fill="#111">Voltage (V)</text>
<text transform="translate(749.9,360.60) rotate(-90)" text-anchor="middle" font-family="Liberation Sans" font-size="20.5" fill="#111">Power (W)</text>
<text x="78.8" y="548" font-family="Liberation Serif" font-size="36.8" fill="#000" textLength="618.5" lengthAdjust="spacingAndGlyphs">(a) under different temperature conditions</text>
<text x="745" y="548" font-family="Liberation Serif" font-size="36.8" fill="#000" textLength="594" lengthAdjust="spacingAndGlyphs">(b) under different irradiance conditions</text>
<text transform="translate(226.95,154.40) scale(1.0,1)" text-anchor="middle" font-family="Liberation Sans" font-size="21.6" font-weight="normal" fill="#111">4</text>
<text transform="translate(240.05,154.40) scale(1.0,1)" text-anchor="middle" font-family="Liberation Sans" font-size="21.6" font-weight="normal" fill="#111">5</text>
<text transform="translate(297.60,154.40) scale(1.0,1)" text-anchor="middle" font-family="Liberation Sans" font-size="21.6" font-weight="normal" fill="#111">2</text>
<text transform="translate(309.95,154.40) scale(1.0,1)" text-anchor="middle" font-family="Liberation Sans" font-size="21.6" font-weight="normal" fill="#111">5</text>
<text transform="translate(367.00,154.40) scale(1.0,1)" text-anchor="middle" font-family="Liberation Sans" font-size="21.6" font-weight="normal" fill="#111">1</text>
<text transform="translate(379.80,154.40) scale(1.0,1)" text-anchor="middle" font-family="Liberation Sans" font-size="21.6" font-weight="normal" fill="#111">0</text>
<ellipse cx="250.95" cy="143.00" rx="2.95" ry="2.55" fill="none" stroke="#111" stroke-width="0.95"/>
<ellipse cx="320.80" cy="143.00" rx="2.95" ry="2.55" fill="none" stroke="#111" stroke-width="0.95"/>
<ellipse cx="390.65" cy="143.00" rx="2.95" ry="2.55" fill="none" stroke="#111" stroke-width="0.95"/>
<text stroke="#111" stroke-width="0.75" transform="translate(260.90,154.70) scale(0.77,1)" text-anchor="middle" font-family="Liberation Serif" font-size="22.5" font-weight="normal" fill="#111">C</text>
<text stroke="#111" stroke-width="0.75" transform="translate(330.70,154.70) scale(0.77,1)" text-anchor="middle" font-family="Liberation Serif" font-size="22.5" font-weight="normal" fill="#111">C</text>
<text stroke="#111" stroke-width="0.75" transform="translate(400.75,154.70) scale(0.77,1)" text-anchor="middle" font-family="Liberation Serif" font-size="22.5" font-weight="normal" fill="#111">C</text>
<rect x="268.00" y="147.30" width="20.00" height="1.3" fill="#333"/>
<rect x="338.00" y="147.30" width="19.90" height="1.3" fill="#333"/>
<text transform="translate(264.15,418.40) scale(1.0,1)" text-anchor="middle" font-family="Liberation Sans" font-size="21.6" font-weight="normal" fill="#111">4</text>
<text transform="translate(277.25,418.40) scale(1.0,1)" text-anchor="middle" font-family="Liberation Sans" font-size="21.6" font-weight="normal" fill="#111">5</text>
<text transform="translate(334.80,418.40) scale(1.0,1)" text-anchor="middle" font-family="Liberation Sans" font-size="21.6" font-weight="normal" fill="#111">2</text>
<text transform="translate(347.15,418.40) scale(1.0,1)" text-anchor="middle" font-family="Liberation Sans" font-size="21.6" font-weight="normal" fill="#111">5</text>
<text transform="translate(404.20,418.40) scale(1.0,1)" text-anchor="middle" font-family="Liberation Sans" font-size="21.6" font-weight="normal" fill="#111">1</text>
<text transform="translate(417.00,418.40) scale(1.0,1)" text-anchor="middle" font-family="Liberation Sans" font-size="21.6" font-weight="normal" fill="#111">0</text>
<ellipse cx="288.15" cy="407.00" rx="2.95" ry="2.55" fill="none" stroke="#111" stroke-width="0.95"/>
<ellipse cx="358.00" cy="407.00" rx="2.95" ry="2.55" fill="none" stroke="#111" stroke-width="0.95"/>
<ellipse cx="427.85" cy="407.00" rx="2.95" ry="2.55" fill="none" stroke="#111" stroke-width="0.95"/>
<text stroke="#111" stroke-width="0.75" transform="translate(298.10,418.70) scale(0.77,1)" text-anchor="middle" font-family="Liberation Serif" font-size="22.5" font-weight="normal" fill="#111">C</text>
<text stroke="#111" stroke-width="0.75" transform="translate(367.90,418.70) scale(0.77,1)" text-anchor="middle" font-family="Liberation Serif" font-size="22.5" font-weight="normal" fill="#111">C</text>
<text stroke="#111" stroke-width="0.75" transform="translate(437.95,418.70) scale(0.77,1)" text-anchor="middle" font-family="Liberation Serif" font-size="22.5" font-weight="normal" fill="#111">C</text>
<rect x="305.20" y="411.30" width="20.00" height="1.3" fill="#333"/>
<rect x="375.20" y="411.30" width="19.90" height="1.3" fill="#333"/>
<path d="M409.9,126.8 L467.0,104.8" stroke="#000" stroke-width="1.7" fill="none"/><path d="M482.3,98.9 L458.0,99.4 L467.0,104.8 L463.8,115.1 Z" fill="#000"/>
<path d="M394.4,378.2 L469.1,347.8" stroke="#000" stroke-width="1.7" fill="none"/><path d="M484.7,341.7 L460.4,342.4 L469.1,347.8 L466.6,358.2 Z" fill="#000"/>
<path d="M1283.5,22.5 L1263.3,33.0" stroke="#000" stroke-width="1.7" fill="none"/><path d="M1248.6,41.0 L1265.4,22.9 L1263.3,33.0 L1272.7,37.8 Z" fill="#000"/>
<path d="M924.2,311.6 L973.3,351.2" stroke="#000" stroke-width="1.7" fill="none"/><path d="M984.6,361.1 L961.4,353.6 L973.3,351.2 L972.3,340.3 Z" fill="#000"/>
<text x="1300.90" y="35.10" font-family="Liberation Sans" font-size="19" fill="#111" textLength="63.90" lengthAdjust="spacingAndGlyphs">1KW/m</text>
<text x="1362.10" y="25.50" text-anchor="middle" font-family="Liberation Sans" font-size="8.6" fill="#111" stroke="#111" stroke-width="0.25">2</text>
<text x="1291.90" y="76.00" font-family="Liberation Sans" font-size="19" fill="#111" textLength="81.70" lengthAdjust="spacingAndGlyphs">0.6KW/m</text>
<text x="1370.90" y="66.40" text-anchor="middle" font-family="Liberation Sans" font-size="8.6" fill="#111" stroke="#111" stroke-width="0.25">2</text>
<text x="1291.90" y="114.60" font-family="Liberation Sans" font-size="19" fill="#111" textLength="81.70" lengthAdjust="spacingAndGlyphs">0.1KW/m</text>
<text x="1370.90" y="105.00" text-anchor="middle" font-family="Liberation Sans" font-size="8.6" fill="#111" stroke="#111" stroke-width="0.25">2</text>
<rect x="1327.30" y="42.30" width="1.8" height="15.10" fill="#111"/>
<rect x="1328.60" y="85.20" width="1.8" height="12.50" fill="#111"/>
<text x="836.70" y="304.40" font-family="Liberation Sans" font-size="19" fill="#111" textLength="63.50" lengthAdjust="spacingAndGlyphs">1KW/m</text>
<text x="897.50" y="294.80" text-anchor="middle" font-family="Liberation Sans" font-size="8.6" fill="#111" stroke="#111" stroke-width="0.25">2</text>
<text x="833.90" y="341.10" font-family="Liberation Sans" font-size="19" fill="#111" textLength="82.30" lengthAdjust="spacingAndGlyphs">0.6KW/m</text>
<text x="913.50" y="331.50" text-anchor="middle" font-family="Liberation Sans" font-size="8.6" fill="#111" stroke="#111" stroke-width="0.25">2</text>
<text x="832.80" y="377.30" font-family="Liberation Sans" font-size="19" fill="#111" textLength="82.30" lengthAdjust="spacingAndGlyphs">0.1KW/m</text>
<text x="912.40" y="367.70" text-anchor="middle" font-family="Liberation Sans" font-size="8.6" fill="#111" stroke="#111" stroke-width="0.25">2</text>
<rect x="871.20" y="309.30" width="1.8" height="12.40" fill="#111"/>
<rect x="870.90" y="348.20" width="1.8" height="11.90" fill="#111"/>
<path d="M356.3,0 L354.6,3.2" stroke="#222" stroke-width="1.3" fill="none"/>
<path d="M384.3,0 V3.8" stroke="#222" stroke-width="1.5" fill="none"/>
<path d="M502,0 V1 Q502,4 498,4 Q495,4 494,2.5" stroke="#222" stroke-width="1.4" fill="none"/>
<circle cx="1118.8" cy="4.5" r="0.8" fill="#333"/>
<path d="M1229.3,3.6 Q1232.5,6.2 1235.6,3.6" stroke="#222" stroke-width="1.4" fill="none"/>
<rect x="131.41" y="199.79" width="4.64" height="3.01" fill="#fff"/><rect x="137.76" y="199.79" width="3.80" height="3.01" fill="#fff"/>
<rect x="131.41" y="467.39" width="4.64" height="3.01" fill="#fff"/><rect x="137.76" y="467.39" width="3.80" height="3.01" fill="#fff"/>
<rect x="22.99" y="365.39" width="4.64" height="3.01" fill="#fff"/><rect x="29.34" y="365.39" width="3.80" height="3.01" fill="#fff"/>
<rect x="866.35" y="200.19" width="4.64" height="3.01" fill="#fff"/><rect x="872.70" y="200.19" width="3.80" height="3.01" fill="#fff"/>
<rect x="778.89" y="133.57" width="4.64" height="3.01" fill="#fff"/><rect x="785.25" y="133.57" width="3.80" height="3.01" fill="#fff"/>
<rect x="866.43" y="467.59" width="4.64" height="3.01" fill="#fff"/><rect x="872.79" y="467.59" width="3.80" height="3.01" fill="#fff"/>
<rect x="758.09" y="373.14" width="4.64" height="3.01" fill="#fff"/><rect x="764.44" y="373.14" width="3.80" height="3.01" fill="#fff"/>
<rect x="361.00" y="151.88" width="5.34" height="3.22" fill="#fff"/><rect x="368.30" y="151.88" width="4.36" height="3.22" fill="#fff"/>
<rect x="398.20" y="415.88" width="5.34" height="3.22" fill="#fff"/><rect x="405.50" y="415.88" width="4.36" height="3.22" fill="#fff"/>
<rect x="1300.90" y="32.78" width="4.81" height="3.03" fill="#fff"/><rect x="1307.49" y="32.78" width="3.94" height="3.03" fill="#fff"/>
<rect x="1308.47" y="112.27" width="4.91" height="3.03" fill="#fff"/><rect x="1315.19" y="112.27" width="4.01" height="3.03" fill="#fff"/>
<rect x="836.70" y="302.07" width="4.78" height="3.03" fill="#fff"/><rect x="843.25" y="302.07" width="3.91" height="3.03" fill="#fff"/>
<rect x="849.49" y="374.98" width="4.94" height="3.03" fill="#fff"/><rect x="856.26" y="374.98" width="4.04" height="3.03" fill="#fff"/>
</svg>
</body></html>
